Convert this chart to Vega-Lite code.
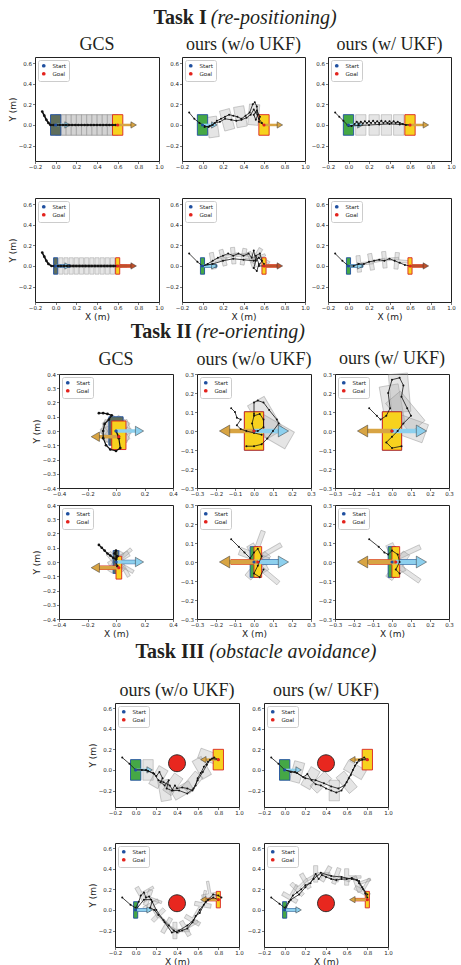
{
"$schema":"https://vega.github.io/schema/vega-lite/v6.json",
"background":"white",
"padding":{"left":7,"top":7,"right":0,"bottom":0},
"config":{
 "view":{"stroke":"#222","strokeWidth":1},
 "axis":{"grid":false,"domain":false,"labelFont":"DejaVu Sans","labelFontSize":5.5,"labelColor":"#222","tickColor":"#222","tickSize":2.5,"tickWidth":0.6,"labelPadding":1,"titleFont":"DejaVu Sans","titleFontSize":9,"titleFontWeight":"normal","titleColor":"#222","titlePadding":1,"format":".1f","labelOverlap":false,"labelFlush":false},
 "legend":{"orient":"top-left","offset":3,"padding":3,"rowPadding":1,"labelFont":"DejaVu Sans","labelFontSize":5.5,"labelColor":"#222","symbolSize":14,"symbolType":"circle","symbolStrokeWidth":0,"fillColor":"white","strokeColor":"#cccccc","cornerRadius":2,"labelOffset":6},
 "title":{"font":"Liberation Serif","fontSize":18,"fontWeight":"normal","color":"#231f20","offset":3}
},
"datasets":{"d":[
{"p":"a1","g":"b","k":"ghost","sh":"R","x":0.05,"y":0,"a":0},{"p":"a1","g":"b","k":"ghost","sh":"R","x":0.1,"y":0,"a":0},{"p":"a1","g":"b","k":"ghost","sh":"R","x":0.15,"y":0,"a":0},{"p":"a1","g":"b","k":"ghost","sh":"R","x":0.2,"y":0,"a":0},{"p":"a1","g":"b","k":"ghost","sh":"R","x":0.25,"y":0,"a":0},{"p":"a1","g":"b","k":"ghost","sh":"R","x":0.3,"y":0,"a":0},{"p":"a1","g":"b","k":"ghost","sh":"R","x":0.35,"y":0,"a":0},{"p":"a1","g":"b","k":"ghost","sh":"R","x":0.4,"y":0,"a":0},{"p":"a1","g":"b","k":"ghost","sh":"R","x":0.45,"y":0,"a":0},{"p":"a1","g":"b","k":"ghost","sh":"R","x":0.5,"y":0,"a":0},{"p":"a1","g":"b","k":"ghost","sh":"R","x":0.55,"y":0,"a":0},
{"p":"a1","g":"b","k":"gcs","sh":"R","x":0,"y":0,"a":0},{"p":"a1","g":"b","k":"goal","sh":"R","x":0.6,"y":0,"a":0},
{"p":"a1","g":"a","k":"sa","x":0,"y":0,"x2":0.1,"y2":0},{"p":"a1","g":"a","k":"ga","x":0.6,"y":0,"x2":0.74,"y2":0},
{"p":"a1","g":"h","k":"sa","x":0.115,"y":0,"a":0},{"p":"a1","g":"h","k":"ga","x":0.755,"y":0,"a":0},
{"p":"a1","g":"t","k":1,"i":0,"x":-0.13,"y":0.13},{"p":"a1","g":"t","k":1,"i":1,"x":-0.11,"y":0.09},{"p":"a1","g":"t","k":1,"i":2,"x":-0.09,"y":0.05},{"p":"a1","g":"t","k":1,"i":3,"x":-0.07,"y":0.02},{"p":"a1","g":"t","k":1,"i":4,"x":-0.05,"y":0},{"p":"a1","g":"t","k":1,"i":5,"x":-0.02,"y":0},{"p":"a1","g":"t","k":1,"i":6,"x":0.01,"y":0},{"p":"a1","g":"t","k":1,"i":7,"x":0.04,"y":0},{"p":"a1","g":"t","k":1,"i":8,"x":0.07,"y":0},{"p":"a1","g":"t","k":1,"i":9,"x":0.1,"y":0},{"p":"a1","g":"t","k":1,"i":10,"x":0.13,"y":0},{"p":"a1","g":"t","k":1,"i":11,"x":0.16,"y":0},{"p":"a1","g":"t","k":1,"i":12,"x":0.19,"y":0},{"p":"a1","g":"t","k":1,"i":13,"x":0.22,"y":0},{"p":"a1","g":"t","k":1,"i":14,"x":0.25,"y":0},{"p":"a1","g":"t","k":1,"i":15,"x":0.28,"y":0},{"p":"a1","g":"t","k":1,"i":16,"x":0.31,"y":0},{"p":"a1","g":"t","k":1,"i":17,"x":0.34,"y":0},{"p":"a1","g":"t","k":1,"i":18,"x":0.37,"y":0},{"p":"a1","g":"t","k":1,"i":19,"x":0.4,"y":0},{"p":"a1","g":"t","k":1,"i":20,"x":0.43,"y":0},{"p":"a1","g":"t","k":1,"i":21,"x":0.46,"y":0},{"p":"a1","g":"t","k":1,"i":22,"x":0.49,"y":0},{"p":"a1","g":"t","k":1,"i":23,"x":0.52,"y":0},{"p":"a1","g":"t","k":1,"i":24,"x":0.55,"y":0},{"p":"a1","g":"t","k":1,"i":25,"x":0.58,"y":0},
{"p":"a1","g":"d","k":"Start","x":0,"y":0},{"p":"a1","g":"d","k":"Goal","x":0.6,"y":0},

{"p":"a2","g":"b","k":"ghost","sh":"R","x":0.1,"y":-0.02,"a":-8},{"p":"a2","g":"b","k":"ghost","sh":"R","x":0.24,"y":0.05,"a":-15},{"p":"a2","g":"b","k":"ghost","sh":"R","x":0.37,"y":0.08,"a":-10},{"p":"a2","g":"b","k":"ghost","sh":"R","x":0.5,"y":0.1,"a":5},
{"p":"a2","g":"b","k":"start","sh":"R","x":0,"y":0,"a":0},{"p":"a2","g":"b","k":"goal","sh":"R","x":0.6,"y":0,"a":0},
{"p":"a2","g":"a","k":"sa","x":0,"y":0,"x2":0.1,"y2":0},{"p":"a2","g":"a","k":"ga","x":0.6,"y":0,"x2":0.74,"y2":0},
{"p":"a2","g":"h","k":"sa","x":0.115,"y":0,"a":0},{"p":"a2","g":"h","k":"ga","x":0.755,"y":0,"a":0},
{"p":"a2","g":"t","k":1,"i":0,"x":-0.13,"y":0.12},{"p":"a2","g":"t","k":1,"i":1,"x":-0.08,"y":0.06},{"p":"a2","g":"t","k":1,"i":2,"x":-0.03,"y":0.02},{"p":"a2","g":"t","k":1,"i":3,"x":0.02,"y":-0.01},{"p":"a2","g":"t","k":1,"i":4,"x":0.06,"y":-0.02},{"p":"a2","g":"t","k":1,"i":5,"x":0.1,"y":0.0},{"p":"a2","g":"t","k":1,"i":6,"x":0.14,"y":0.04},{"p":"a2","g":"t","k":1,"i":7,"x":0.18,"y":0.06},{"p":"a2","g":"t","k":1,"i":8,"x":0.22,"y":0.08},{"p":"a2","g":"t","k":1,"i":9,"x":0.26,"y":0.1},{"p":"a2","g":"t","k":1,"i":10,"x":0.3,"y":0.09},{"p":"a2","g":"t","k":1,"i":11,"x":0.34,"y":0.08},{"p":"a2","g":"t","k":1,"i":12,"x":0.38,"y":0.06},{"p":"a2","g":"t","k":1,"i":13,"x":0.42,"y":0.09},{"p":"a2","g":"t","k":1,"i":14,"x":0.46,"y":0.12},{"p":"a2","g":"t","k":1,"i":15,"x":0.49,"y":0.2},{"p":"a2","g":"t","k":1,"i":16,"x":0.51,"y":0.22},{"p":"a2","g":"t","k":1,"i":17,"x":0.53,"y":0.18},{"p":"a2","g":"t","k":1,"i":18,"x":0.54,"y":0.1},{"p":"a2","g":"t","k":1,"i":19,"x":0.52,"y":0.05},{"p":"a2","g":"t","k":1,"i":20,"x":0.5,"y":0.1},{"p":"a2","g":"t","k":1,"i":21,"x":0.53,"y":0.14},{"p":"a2","g":"t","k":1,"i":22,"x":0.56,"y":0.08},{"p":"a2","g":"t","k":1,"i":23,"x":0.55,"y":0.03},{"p":"a2","g":"t","k":1,"i":24,"x":0.6,"y":0.0},
{"p":"a2","g":"t","k":2,"i":0,"x":0.02,"y":-0.02},{"p":"a2","g":"t","k":2,"i":1,"x":0.07,"y":-0.01},{"p":"a2","g":"t","k":2,"i":2,"x":0.12,"y":0.02},{"p":"a2","g":"t","k":2,"i":3,"x":0.17,"y":0.03},{"p":"a2","g":"t","k":2,"i":4,"x":0.22,"y":0.06},{"p":"a2","g":"t","k":2,"i":5,"x":0.28,"y":0.05},{"p":"a2","g":"t","k":2,"i":6,"x":0.33,"y":0.04},{"p":"a2","g":"t","k":2,"i":7,"x":0.38,"y":0.05},{"p":"a2","g":"t","k":2,"i":8,"x":0.43,"y":0.07},{"p":"a2","g":"t","k":2,"i":9,"x":0.47,"y":0.1},{"p":"a2","g":"t","k":2,"i":10,"x":0.5,"y":0.15},{"p":"a2","g":"t","k":2,"i":11,"x":0.52,"y":0.12},{"p":"a2","g":"t","k":2,"i":12,"x":0.55,"y":0.06},{"p":"a2","g":"t","k":2,"i":13,"x":0.58,"y":0.02},
{"p":"a2","g":"d","k":"Start","x":0,"y":0},{"p":"a2","g":"d","k":"Goal","x":0.6,"y":0},

{"p":"a3","g":"b","k":"ghost","sh":"R","x":0.12,"y":0,"a":0},{"p":"a3","g":"b","k":"ghost","sh":"R","x":0.25,"y":0,"a":0},{"p":"a3","g":"b","k":"ghost","sh":"R","x":0.37,"y":0,"a":0},{"p":"a3","g":"b","k":"ghost","sh":"R","x":0.49,"y":0,"a":0},
{"p":"a3","g":"b","k":"start","sh":"R","x":0,"y":0,"a":0},{"p":"a3","g":"b","k":"goal","sh":"R","x":0.6,"y":0,"a":0},
{"p":"a3","g":"a","k":"sa","x":0,"y":0,"x2":0.1,"y2":0},{"p":"a3","g":"a","k":"ga","x":0.6,"y":0,"x2":0.74,"y2":0},
{"p":"a3","g":"h","k":"sa","x":0.115,"y":0,"a":0},{"p":"a3","g":"h","k":"ga","x":0.755,"y":0,"a":0},
{"p":"a3","g":"t","k":1,"i":0,"x":-0.13,"y":0.12},{"p":"a3","g":"t","k":1,"i":1,"x":-0.09,"y":0.08},{"p":"a3","g":"t","k":1,"i":2,"x":-0.05,"y":0.04},{"p":"a3","g":"t","k":1,"i":3,"x":-0.01,"y":0.0},{"p":"a3","g":"t","k":1,"i":4,"x":0.03,"y":-0.01},{"p":"a3","g":"t","k":1,"i":5,"x":0.06,"y":0.01},{"p":"a3","g":"t","k":1,"i":6,"x":0.08,"y":0.03},{"p":"a3","g":"t","k":1,"i":7,"x":0.1,"y":0.01},{"p":"a3","g":"t","k":1,"i":8,"x":0.12,"y":0.03},{"p":"a3","g":"t","k":1,"i":9,"x":0.14,"y":0.015},{"p":"a3","g":"t","k":1,"i":10,"x":0.16,"y":0.035},{"p":"a3","g":"t","k":1,"i":11,"x":0.18,"y":0.02},{"p":"a3","g":"t","k":1,"i":12,"x":0.2,"y":0.035},{"p":"a3","g":"t","k":1,"i":13,"x":0.22,"y":0.02},{"p":"a3","g":"t","k":1,"i":14,"x":0.24,"y":0.04},{"p":"a3","g":"t","k":1,"i":15,"x":0.26,"y":0.02},{"p":"a3","g":"t","k":1,"i":16,"x":0.28,"y":0.035},{"p":"a3","g":"t","k":1,"i":17,"x":0.3,"y":0.02},{"p":"a3","g":"t","k":1,"i":18,"x":0.32,"y":0.04},{"p":"a3","g":"t","k":1,"i":19,"x":0.34,"y":0.02},{"p":"a3","g":"t","k":1,"i":20,"x":0.36,"y":0.035},{"p":"a3","g":"t","k":1,"i":21,"x":0.38,"y":0.02},{"p":"a3","g":"t","k":1,"i":22,"x":0.4,"y":0.035},{"p":"a3","g":"t","k":1,"i":23,"x":0.42,"y":0.02},{"p":"a3","g":"t","k":1,"i":24,"x":0.44,"y":0.035},{"p":"a3","g":"t","k":1,"i":25,"x":0.46,"y":0.02},{"p":"a3","g":"t","k":1,"i":26,"x":0.48,"y":0.03},{"p":"a3","g":"t","k":1,"i":27,"x":0.5,"y":0.02},{"p":"a3","g":"t","k":1,"i":28,"x":0.53,"y":0.01},{"p":"a3","g":"t","k":1,"i":29,"x":0.56,"y":0.0},{"p":"a3","g":"t","k":1,"i":30,"x":0.6,"y":0.0},
{"p":"a3","g":"t","k":2,"i":0,"x":0.0,"y":-0.01},{"p":"a3","g":"t","k":2,"i":1,"x":0.1,"y":-0.005},{"p":"a3","g":"t","k":2,"i":2,"x":0.2,"y":0.0},{"p":"a3","g":"t","k":2,"i":3,"x":0.3,"y":0.005},{"p":"a3","g":"t","k":2,"i":4,"x":0.4,"y":0.01},{"p":"a3","g":"t","k":2,"i":5,"x":0.5,"y":0.005},{"p":"a3","g":"t","k":2,"i":6,"x":0.6,"y":0.0},
{"p":"a3","g":"d","k":"Start","x":0,"y":0},{"p":"a3","g":"d","k":"Goal","x":0.6,"y":0},

{"p":"a4","g":"b","k":"ghost","sh":"T","x":0.05,"y":0,"a":0},{"p":"a4","g":"b","k":"ghost","sh":"T","x":0.1,"y":0,"a":0},{"p":"a4","g":"b","k":"ghost","sh":"T","x":0.15,"y":0,"a":0},{"p":"a4","g":"b","k":"ghost","sh":"T","x":0.2,"y":0,"a":0},{"p":"a4","g":"b","k":"ghost","sh":"T","x":0.25,"y":0,"a":0},{"p":"a4","g":"b","k":"ghost","sh":"T","x":0.3,"y":0,"a":0},{"p":"a4","g":"b","k":"ghost","sh":"T","x":0.35,"y":0,"a":0},{"p":"a4","g":"b","k":"ghost","sh":"T","x":0.4,"y":0,"a":0},{"p":"a4","g":"b","k":"ghost","sh":"T","x":0.45,"y":0,"a":0},{"p":"a4","g":"b","k":"ghost","sh":"T","x":0.5,"y":0,"a":0},{"p":"a4","g":"b","k":"ghost","sh":"T","x":0.55,"y":0,"a":0},
{"p":"a4","g":"b","k":"gcs","sh":"T","x":0,"y":0,"a":0},{"p":"a4","g":"b","k":"goal","sh":"T","x":0.6,"y":0,"a":0},
{"p":"a4","g":"a","k":"sa","x":0,"y":0,"x2":0.1,"y2":0},{"p":"a4","g":"a","k":"gt","x":0.6,"y":0,"x2":0.74,"y2":0},
{"p":"a4","g":"h","k":"sa","x":0.115,"y":0,"a":0},{"p":"a4","g":"h","k":"gt","x":0.755,"y":0,"a":0},
{"p":"a4","g":"t","k":1,"i":0,"x":-0.13,"y":0.13},{"p":"a4","g":"t","k":1,"i":1,"x":-0.11,"y":0.09},{"p":"a4","g":"t","k":1,"i":2,"x":-0.09,"y":0.05},{"p":"a4","g":"t","k":1,"i":3,"x":-0.07,"y":0.02},{"p":"a4","g":"t","k":1,"i":4,"x":-0.04,"y":0},{"p":"a4","g":"t","k":1,"i":5,"x":-0.01,"y":0},{"p":"a4","g":"t","k":1,"i":6,"x":0.02,"y":0},{"p":"a4","g":"t","k":1,"i":7,"x":0.05,"y":0},{"p":"a4","g":"t","k":1,"i":8,"x":0.08,"y":0},{"p":"a4","g":"t","k":1,"i":9,"x":0.11,"y":0},{"p":"a4","g":"t","k":1,"i":10,"x":0.14,"y":0},{"p":"a4","g":"t","k":1,"i":11,"x":0.17,"y":0},{"p":"a4","g":"t","k":1,"i":12,"x":0.2,"y":0},{"p":"a4","g":"t","k":1,"i":13,"x":0.23,"y":0},{"p":"a4","g":"t","k":1,"i":14,"x":0.26,"y":0},{"p":"a4","g":"t","k":1,"i":15,"x":0.29,"y":0},{"p":"a4","g":"t","k":1,"i":16,"x":0.32,"y":0},{"p":"a4","g":"t","k":1,"i":17,"x":0.35,"y":0},{"p":"a4","g":"t","k":1,"i":18,"x":0.38,"y":0},{"p":"a4","g":"t","k":1,"i":19,"x":0.41,"y":0},{"p":"a4","g":"t","k":1,"i":20,"x":0.44,"y":0},{"p":"a4","g":"t","k":1,"i":21,"x":0.47,"y":0},{"p":"a4","g":"t","k":1,"i":22,"x":0.5,"y":0},{"p":"a4","g":"t","k":1,"i":23,"x":0.53,"y":0},{"p":"a4","g":"t","k":1,"i":24,"x":0.56,"y":0},{"p":"a4","g":"t","k":1,"i":25,"x":0.59,"y":0},
{"p":"a4","g":"d","k":"Start","x":0,"y":0},{"p":"a4","g":"d","k":"Goal","x":0.6,"y":0},

{"p":"a5","g":"b","k":"ghost","sh":"T","x":0.1,"y":0.05,"a":-10},{"p":"a5","g":"b","k":"ghost","sh":"T","x":0.2,"y":0.08,"a":-15},{"p":"a5","g":"b","k":"ghost","sh":"T","x":0.3,"y":0.1,"a":-5},{"p":"a5","g":"b","k":"ghost","sh":"T","x":0.4,"y":0.09,"a":10},{"p":"a5","g":"b","k":"ghost","sh":"T","x":0.48,"y":0.06,"a":-20},{"p":"a5","g":"b","k":"ghost","sh":"T","x":0.53,"y":0.1,"a":30},
{"p":"a5","g":"b","k":"start","sh":"T","x":0,"y":0,"a":0},{"p":"a5","g":"b","k":"goal","sh":"T","x":0.6,"y":0,"a":0},
{"p":"a5","g":"a","k":"sa","x":0,"y":0,"x2":0.1,"y2":0},{"p":"a5","g":"a","k":"gt","x":0.6,"y":0,"x2":0.74,"y2":0},
{"p":"a5","g":"h","k":"sa","x":0.115,"y":0,"a":0},{"p":"a5","g":"h","k":"gt","x":0.755,"y":0,"a":0},
{"p":"a5","g":"t","k":1,"i":0,"x":-0.13,"y":0.12},{"p":"a5","g":"t","k":1,"i":1,"x":-0.05,"y":0.04},{"p":"a5","g":"t","k":1,"i":2,"x":0.0,"y":0.0},{"p":"a5","g":"t","k":1,"i":3,"x":0.05,"y":0.02},{"p":"a5","g":"t","k":1,"i":4,"x":0.1,"y":0.05},{"p":"a5","g":"t","k":1,"i":5,"x":0.15,"y":0.08},{"p":"a5","g":"t","k":1,"i":6,"x":0.2,"y":0.1},{"p":"a5","g":"t","k":1,"i":7,"x":0.25,"y":0.12},{"p":"a5","g":"t","k":1,"i":8,"x":0.3,"y":0.1},{"p":"a5","g":"t","k":1,"i":9,"x":0.35,"y":0.12},{"p":"a5","g":"t","k":1,"i":10,"x":0.4,"y":0.1},{"p":"a5","g":"t","k":1,"i":11,"x":0.45,"y":0.12},{"p":"a5","g":"t","k":1,"i":12,"x":0.48,"y":0.08},{"p":"a5","g":"t","k":1,"i":13,"x":0.5,"y":0.15},{"p":"a5","g":"t","k":1,"i":14,"x":0.52,"y":0.05},{"p":"a5","g":"t","k":1,"i":15,"x":0.5,"y":-0.02},{"p":"a5","g":"t","k":1,"i":16,"x":0.53,"y":-0.05},{"p":"a5","g":"t","k":1,"i":17,"x":0.55,"y":0.02},{"p":"a5","g":"t","k":1,"i":18,"x":0.52,"y":0.1},{"p":"a5","g":"t","k":1,"i":19,"x":0.56,"y":0.12},{"p":"a5","g":"t","k":1,"i":20,"x":0.58,"y":0.05},{"p":"a5","g":"t","k":1,"i":21,"x":0.55,"y":0.0},{"p":"a5","g":"t","k":1,"i":22,"x":0.6,"y":0.0},
{"p":"a5","g":"t","k":2,"i":0,"x":0.0,"y":0.0},{"p":"a5","g":"t","k":2,"i":1,"x":0.1,"y":0.02},{"p":"a5","g":"t","k":2,"i":2,"x":0.2,"y":0.05},{"p":"a5","g":"t","k":2,"i":3,"x":0.3,"y":0.07},{"p":"a5","g":"t","k":2,"i":4,"x":0.4,"y":0.06},{"p":"a5","g":"t","k":2,"i":5,"x":0.5,"y":0.05},{"p":"a5","g":"t","k":2,"i":6,"x":0.55,"y":0.08},{"p":"a5","g":"t","k":2,"i":7,"x":0.6,"y":0.02},
{"p":"a5","g":"d","k":"Start","x":0,"y":0},{"p":"a5","g":"d","k":"Goal","x":0.6,"y":0},

{"p":"a6","g":"b","k":"ghost","sh":"T","x":0.1,"y":0.02,"a":-5},{"p":"a6","g":"b","k":"ghost","sh":"T","x":0.22,"y":0.04,"a":-10},{"p":"a6","g":"b","k":"ghost","sh":"T","x":0.35,"y":0.06,"a":-5},{"p":"a6","g":"b","k":"ghost","sh":"T","x":0.47,"y":0.05,"a":5},
{"p":"a6","g":"b","k":"start","sh":"T","x":0,"y":0,"a":0},{"p":"a6","g":"b","k":"goal","sh":"T","x":0.6,"y":0,"a":0},
{"p":"a6","g":"a","k":"sa","x":0,"y":0,"x2":0.1,"y2":0},{"p":"a6","g":"a","k":"gt","x":0.6,"y":0,"x2":0.74,"y2":0},
{"p":"a6","g":"h","k":"sa","x":0.115,"y":0,"a":0},{"p":"a6","g":"h","k":"gt","x":0.755,"y":0,"a":0},
{"p":"a6","g":"t","k":1,"i":0,"x":-0.13,"y":0.12},{"p":"a6","g":"t","k":1,"i":1,"x":-0.06,"y":0.05},{"p":"a6","g":"t","k":1,"i":2,"x":0.0,"y":0.0},{"p":"a6","g":"t","k":1,"i":3,"x":0.05,"y":0.0},{"p":"a6","g":"t","k":1,"i":4,"x":0.1,"y":0.02},{"p":"a6","g":"t","k":1,"i":5,"x":0.15,"y":0.02},{"p":"a6","g":"t","k":1,"i":6,"x":0.2,"y":0.04},{"p":"a6","g":"t","k":1,"i":7,"x":0.25,"y":0.05},{"p":"a6","g":"t","k":1,"i":8,"x":0.3,"y":0.06},{"p":"a6","g":"t","k":1,"i":9,"x":0.35,"y":0.05},{"p":"a6","g":"t","k":1,"i":10,"x":0.4,"y":0.07},{"p":"a6","g":"t","k":1,"i":11,"x":0.45,"y":0.05},{"p":"a6","g":"t","k":1,"i":12,"x":0.5,"y":0.03},{"p":"a6","g":"t","k":1,"i":13,"x":0.55,"y":0.01},{"p":"a6","g":"t","k":1,"i":14,"x":0.6,"y":0.0},
{"p":"a6","g":"d","k":"Start","x":0,"y":0},{"p":"a6","g":"d","k":"Goal","x":0.6,"y":0},

{"p":"b1","g":"b","k":"ghost","sh":"R","x":0,"y":0,"a":35},{"p":"b1","g":"b","k":"ghost","sh":"R","x":0,"y":0,"a":70},{"p":"b1","g":"b","k":"ghost","sh":"R","x":0,"y":0,"a":110},{"p":"b1","g":"b","k":"ghost","sh":"R","x":0,"y":0,"a":145},
{"p":"b1","g":"b","k":"gcs","sh":"R","x":0,"y":0,"a":0},{"p":"b1","g":"b","k":"goal","sh":"R","x":0.02,"y":-0.03,"a":0},
{"p":"b1","g":"a","k":"sa","x":0,"y":0,"x2":0.15,"y2":0},{"p":"b1","g":"a","k":"ga","x":0.02,"y":-0.04,"x2":-0.13,"y2":-0.04},
{"p":"b1","g":"h","k":"sa","x":0.165,"y":0,"a":0},{"p":"b1","g":"h","k":"ga","x":-0.145,"y":-0.04,"a":180},
{"p":"b1","g":"t","k":1,"i":0,"x":-0.12,"y":0.125},{"p":"b1","g":"t","k":1,"i":1,"x":-0.09,"y":0.125},{"p":"b1","g":"t","k":1,"i":2,"x":-0.06,"y":0.12},{"p":"b1","g":"t","k":1,"i":3,"x":-0.03,"y":0.11},{"p":"b1","g":"t","k":1,"i":4,"x":-0.05,"y":0.08},{"p":"b1","g":"t","k":1,"i":5,"x":-0.08,"y":0.05},{"p":"b1","g":"t","k":1,"i":6,"x":-0.09,"y":0.0},{"p":"b1","g":"t","k":1,"i":7,"x":-0.09,"y":-0.05},{"p":"b1","g":"t","k":1,"i":8,"x":-0.07,"y":-0.1},{"p":"b1","g":"t","k":1,"i":9,"x":-0.04,"y":-0.13},{"p":"b1","g":"t","k":1,"i":10,"x":0.0,"y":-0.14},{"p":"b1","g":"t","k":1,"i":11,"x":0.03,"y":-0.12},{"p":"b1","g":"t","k":1,"i":12,"x":0.02,"y":-0.05},{"p":"b1","g":"t","k":1,"i":13,"x":0.0,"y":0.0},{"p":"b1","g":"t","k":1,"i":14,"x":0.02,"y":-0.04},
{"p":"b1","g":"d","k":"Start","x":0,"y":0},{"p":"b1","g":"d","k":"Goal","x":0.02,"y":-0.04},

{"p":"b2","g":"b","k":"ghost","sh":"R","x":0.06,"y":0.07,"a":-30},{"p":"b2","g":"b","k":"ghost","sh":"R","x":0.1,"y":0.0,"a":-60},
{"p":"b2","g":"b","k":"start","sh":"R","x":0,"y":0,"a":0},{"p":"b2","g":"b","k":"goal","sh":"R","x":0,"y":0,"a":0},
{"p":"b2","g":"a","k":"sa","x":0,"y":0,"x2":0.14,"y2":0},{"p":"b2","g":"a","k":"ga","x":0,"y":0,"x2":-0.14,"y2":0},
{"p":"b2","g":"h","k":"sa","x":0.155,"y":0,"a":0},{"p":"b2","g":"h","k":"ga","x":-0.155,"y":0,"a":180},
{"p":"b2","g":"t","k":1,"i":0,"x":-0.12,"y":0.12},{"p":"b2","g":"t","k":1,"i":1,"x":-0.1,"y":0.1},{"p":"b2","g":"t","k":1,"i":2,"x":-0.09,"y":0.07},{"p":"b2","g":"t","k":1,"i":3,"x":-0.07,"y":0.06},{"p":"b2","g":"t","k":1,"i":4,"x":-0.09,"y":0.03},{"p":"b2","g":"t","k":1,"i":5,"x":-0.07,"y":0.01},{"p":"b2","g":"t","k":1,"i":6,"x":-0.04,"y":0.0},{"p":"b2","g":"t","k":1,"i":7,"x":0.0,"y":-0.01},{"p":"b2","g":"t","k":1,"i":8,"x":0.04,"y":-0.02},
{"p":"b2","g":"t","k":2,"i":0,"x":0.0,"y":0.0},{"p":"b2","g":"t","k":2,"i":1,"x":-0.01,"y":0.04},{"p":"b2","g":"t","k":2,"i":2,"x":0.0,"y":0.08},{"p":"b2","g":"t","k":2,"i":3,"x":0.03,"y":0.09},{"p":"b2","g":"t","k":2,"i":4,"x":0.05,"y":0.06},{"p":"b2","g":"t","k":2,"i":5,"x":0.05,"y":0.02},{"p":"b2","g":"t","k":2,"i":6,"x":0.02,"y":0.0},{"p":"b2","g":"t","k":2,"i":7,"x":0.0,"y":0.0},
{"p":"b2","g":"t","k":3,"i":0,"x":0.0,"y":0.09},{"p":"b2","g":"t","k":3,"i":1,"x":0.0,"y":0.15},{"p":"b2","g":"t","k":3,"i":2,"x":0.02,"y":0.16},{"p":"b2","g":"t","k":3,"i":3,"x":0.05,"y":0.15},{"p":"b2","g":"t","k":3,"i":4,"x":0.08,"y":0.11},{"p":"b2","g":"t","k":3,"i":5,"x":0.12,"y":0.06},{"p":"b2","g":"t","k":3,"i":6,"x":0.13,"y":0.04},{"p":"b2","g":"t","k":3,"i":7,"x":0.1,"y":0.0},{"p":"b2","g":"t","k":3,"i":8,"x":0.07,"y":-0.04},{"p":"b2","g":"t","k":3,"i":9,"x":0.04,"y":-0.07},{"p":"b2","g":"t","k":3,"i":10,"x":0.0,"y":-0.08},{"p":"b2","g":"t","k":3,"i":11,"x":-0.04,"y":-0.08},
{"p":"b2","g":"d","k":"Start","x":0,"y":0},{"p":"b2","g":"d","k":"Goal","x":0,"y":0},

{"p":"b3","g":"b","k":"ghost","sh":"R","x":0.0,"y":0.14,"a":-10},{"p":"b3","g":"b","k":"ghost","sh":"R","x":0.04,"y":0.2,"a":-5},{"p":"b3","g":"b","k":"ghost","sh":"R","x":0.07,"y":0.1,"a":-40},{"p":"b3","g":"b","k":"ghost","sh":"R","x":0.08,"y":0.02,"a":-70},
{"p":"b3","g":"b","k":"start","sh":"R","x":0,"y":0,"a":0},{"p":"b3","g":"b","k":"goal","sh":"R","x":0,"y":0,"a":0},
{"p":"b3","g":"a","k":"sa","x":0,"y":0,"x2":0.14,"y2":0},{"p":"b3","g":"a","k":"ga","x":0,"y":0,"x2":-0.14,"y2":0},
{"p":"b3","g":"h","k":"sa","x":0.155,"y":0,"a":0},{"p":"b3","g":"h","k":"ga","x":-0.155,"y":0,"a":180},
{"p":"b3","g":"t","k":1,"i":0,"x":-0.12,"y":0.12},{"p":"b3","g":"t","k":1,"i":1,"x":-0.08,"y":0.08},{"p":"b3","g":"t","k":1,"i":2,"x":-0.06,"y":0.06},{"p":"b3","g":"t","k":1,"i":3,"x":-0.03,"y":0.08},{"p":"b3","g":"t","k":1,"i":4,"x":-0.01,"y":0.12},{"p":"b3","g":"t","k":1,"i":5,"x":-0.02,"y":0.2},{"p":"b3","g":"t","k":1,"i":6,"x":0.0,"y":0.27},{"p":"b3","g":"t","k":1,"i":7,"x":0.04,"y":0.28},{"p":"b3","g":"t","k":1,"i":8,"x":0.06,"y":0.24},{"p":"b3","g":"t","k":1,"i":9,"x":0.05,"y":0.18},{"p":"b3","g":"t","k":1,"i":10,"x":0.08,"y":0.12},{"p":"b3","g":"t","k":1,"i":11,"x":0.1,"y":0.08},{"p":"b3","g":"t","k":1,"i":12,"x":0.06,"y":0.04},{"p":"b3","g":"t","k":1,"i":13,"x":0.03,"y":0.0},{"p":"b3","g":"t","k":1,"i":14,"x":0.0,"y":-0.03},{"p":"b3","g":"t","k":1,"i":15,"x":-0.03,"y":-0.06},{"p":"b3","g":"t","k":1,"i":16,"x":0.0,"y":-0.09},{"p":"b3","g":"t","k":1,"i":17,"x":0.05,"y":-0.08},
{"p":"b3","g":"d","k":"Start","x":0,"y":0},{"p":"b3","g":"d","k":"Goal","x":0,"y":0},

{"p":"b4","g":"b","k":"ghost","sh":"T","x":0,"y":0,"a":30},{"p":"b4","g":"b","k":"ghost","sh":"T","x":0,"y":0,"a":-40},{"p":"b4","g":"b","k":"ghost","sh":"T","x":0.02,"y":0.02,"a":60},
{"p":"b4","g":"b","k":"gcs","sh":"T","x":0,"y":0,"a":0},{"p":"b4","g":"b","k":"goal","sh":"T","x":0.02,"y":-0.04,"a":180},
{"p":"b4","g":"a","k":"sa","x":0,"y":0,"x2":0.15,"y2":0},{"p":"b4","g":"a","k":"ga","x":0.02,"y":-0.04,"x2":-0.13,"y2":-0.04},
{"p":"b4","g":"h","k":"sa","x":0.165,"y":0,"a":0},{"p":"b4","g":"h","k":"ga","x":-0.145,"y":-0.04,"a":180},
{"p":"b4","g":"t","k":1,"i":0,"x":-0.12,"y":0.12},{"p":"b4","g":"t","k":1,"i":1,"x":-0.1,"y":0.1},{"p":"b4","g":"t","k":1,"i":2,"x":-0.08,"y":0.08},{"p":"b4","g":"t","k":1,"i":3,"x":-0.06,"y":0.06},{"p":"b4","g":"t","k":1,"i":4,"x":-0.04,"y":0.045},{"p":"b4","g":"t","k":1,"i":5,"x":-0.02,"y":0.03},{"p":"b4","g":"t","k":1,"i":6,"x":0.0,"y":0.02},{"p":"b4","g":"t","k":1,"i":7,"x":0.0,"y":0.08},{"p":"b4","g":"t","k":1,"i":8,"x":-0.01,"y":0.06},{"p":"b4","g":"t","k":1,"i":9,"x":0.01,"y":0.04},{"p":"b4","g":"t","k":1,"i":10,"x":0.0,"y":0.0},{"p":"b4","g":"t","k":1,"i":11,"x":0.01,"y":-0.03},
{"p":"b4","g":"d","k":"Start","x":0,"y":0},{"p":"b4","g":"d","k":"Goal","x":0.02,"y":-0.04},

{"p":"b5","g":"b","k":"ghost","sh":"T","x":0.02,"y":0.02,"a":-30},{"p":"b5","g":"b","k":"ghost","sh":"T","x":0.02,"y":-0.02,"a":40},{"p":"b5","g":"b","k":"ghost","sh":"T","x":0.0,"y":0.03,"a":-70},
{"p":"b5","g":"b","k":"start","sh":"T","x":0,"y":0,"a":0},{"p":"b5","g":"b","k":"goal","sh":"T","x":0.02,"y":0,"a":180},
{"p":"b5","g":"a","k":"sa","x":0,"y":0,"x2":0.14,"y2":0},{"p":"b5","g":"a","k":"ga","x":0.02,"y":0,"x2":-0.14,"y2":0},
{"p":"b5","g":"h","k":"sa","x":0.155,"y":0,"a":0},{"p":"b5","g":"h","k":"ga","x":-0.155,"y":0,"a":180},
{"p":"b5","g":"t","k":1,"i":0,"x":-0.12,"y":0.12},{"p":"b5","g":"t","k":1,"i":1,"x":-0.08,"y":0.08},{"p":"b5","g":"t","k":1,"i":2,"x":-0.05,"y":0.05},{"p":"b5","g":"t","k":1,"i":3,"x":-0.02,"y":0.02},{"p":"b5","g":"t","k":1,"i":4,"x":0.0,"y":0.05},{"p":"b5","g":"t","k":1,"i":5,"x":0.02,"y":0.07},{"p":"b5","g":"t","k":1,"i":6,"x":0.04,"y":0.03},{"p":"b5","g":"t","k":1,"i":7,"x":0.02,"y":-0.02},{"p":"b5","g":"t","k":1,"i":8,"x":0.0,"y":-0.06},{"p":"b5","g":"t","k":1,"i":9,"x":0.03,"y":-0.08},{"p":"b5","g":"t","k":1,"i":10,"x":0.05,"y":-0.04},
{"p":"b5","g":"d","k":"Start","x":0,"y":0},{"p":"b5","g":"d","k":"Goal","x":0.02,"y":0},

{"p":"b6","g":"b","k":"ghost","sh":"T","x":0.02,"y":0.02,"a":-25},{"p":"b6","g":"b","k":"ghost","sh":"T","x":0.03,"y":-0.02,"a":35},
{"p":"b6","g":"b","k":"start","sh":"T","x":0,"y":0,"a":0},{"p":"b6","g":"b","k":"goal","sh":"T","x":0.02,"y":0,"a":180},
{"p":"b6","g":"a","k":"sa","x":0,"y":0,"x2":0.14,"y2":0},{"p":"b6","g":"a","k":"ga","x":0.02,"y":0,"x2":-0.14,"y2":0},
{"p":"b6","g":"h","k":"sa","x":0.155,"y":0,"a":0},{"p":"b6","g":"h","k":"ga","x":-0.155,"y":0,"a":180},
{"p":"b6","g":"t","k":1,"i":0,"x":-0.12,"y":0.12},{"p":"b6","g":"t","k":1,"i":1,"x":-0.07,"y":0.08},{"p":"b6","g":"t","k":1,"i":2,"x":-0.04,"y":0.05},{"p":"b6","g":"t","k":1,"i":3,"x":-0.02,"y":0.04},{"p":"b6","g":"t","k":1,"i":4,"x":0.0,"y":0.06},{"p":"b6","g":"t","k":1,"i":5,"x":0.03,"y":0.04},{"p":"b6","g":"t","k":1,"i":6,"x":0.04,"y":0.0},{"p":"b6","g":"t","k":1,"i":7,"x":0.02,"y":-0.04},{"p":"b6","g":"t","k":1,"i":8,"x":0.04,"y":-0.06},
{"p":"b6","g":"d","k":"Start","x":0,"y":0},{"p":"b6","g":"d","k":"Goal","x":0.02,"y":0},

{"p":"c1","g":"b","k":"ghost","sh":"R","x":0.12,"y":0.0,"a":0},{"p":"c1","g":"b","k":"ghost","sh":"R","x":0.22,"y":-0.07,"a":30},{"p":"c1","g":"b","k":"ghost","sh":"R","x":0.28,"y":-0.2,"a":-10},{"p":"c1","g":"b","k":"ghost","sh":"R","x":0.36,"y":-0.14,"a":35},{"p":"c1","g":"b","k":"ghost","sh":"R","x":0.45,"y":-0.2,"a":60},{"p":"c1","g":"b","k":"ghost","sh":"R","x":0.55,"y":-0.12,"a":40},{"p":"c1","g":"b","k":"ghost","sh":"R","x":0.64,"y":0.02,"a":-30},{"p":"c1","g":"b","k":"ghost","sh":"R","x":0.71,"y":0.13,"a":-70},
{"p":"c1","g":"b","k":"obs","sh":"C","x":0.4,"y":0.065,"a":0},
{"p":"c1","g":"b","k":"start","sh":"R","x":0,"y":0,"a":0},{"p":"c1","g":"b","k":"goal","sh":"R","x":0.8,"y":0.1,"a":0},
{"p":"c1","g":"a","k":"sa","x":0,"y":0,"x2":0.12,"y2":0},{"p":"c1","g":"a","k":"ga","x":0.8,"y":0.1,"x2":0.67,"y2":0.1},
{"p":"c1","g":"h","k":"sa","x":0.135,"y":0,"a":0},{"p":"c1","g":"h","k":"ga","x":0.655,"y":0.1,"a":180},
{"p":"c1","g":"t","k":1,"i":0,"x":-0.13,"y":0.12},{"p":"c1","g":"t","k":1,"i":1,"x":-0.06,"y":0.06},{"p":"c1","g":"t","k":1,"i":2,"x":0.0,"y":0.0},{"p":"c1","g":"t","k":1,"i":3,"x":0.06,"y":0.0},{"p":"c1","g":"t","k":1,"i":4,"x":0.12,"y":-0.01},{"p":"c1","g":"t","k":1,"i":5,"x":0.17,"y":-0.03},{"p":"c1","g":"t","k":1,"i":6,"x":0.2,"y":-0.06},{"p":"c1","g":"t","k":1,"i":7,"x":0.23,"y":-0.02},{"p":"c1","g":"t","k":1,"i":8,"x":0.26,"y":-0.08},{"p":"c1","g":"t","k":1,"i":9,"x":0.24,"y":-0.12},{"p":"c1","g":"t","k":1,"i":10,"x":0.28,"y":-0.15},{"p":"c1","g":"t","k":1,"i":11,"x":0.32,"y":-0.1},{"p":"c1","g":"t","k":1,"i":12,"x":0.3,"y":-0.18},{"p":"c1","g":"t","k":1,"i":13,"x":0.35,"y":-0.2},{"p":"c1","g":"t","k":1,"i":14,"x":0.38,"y":-0.15},{"p":"c1","g":"t","k":1,"i":15,"x":0.4,"y":-0.18},{"p":"c1","g":"t","k":1,"i":16,"x":0.45,"y":-0.17},{"p":"c1","g":"t","k":1,"i":17,"x":0.5,"y":-0.18},{"p":"c1","g":"t","k":1,"i":18,"x":0.55,"y":-0.2},{"p":"c1","g":"t","k":1,"i":19,"x":0.58,"y":-0.15},{"p":"c1","g":"t","k":1,"i":20,"x":0.6,"y":-0.08},{"p":"c1","g":"t","k":1,"i":21,"x":0.63,"y":-0.03},{"p":"c1","g":"t","k":1,"i":22,"x":0.66,"y":0.03},{"p":"c1","g":"t","k":1,"i":23,"x":0.7,"y":0.08},{"p":"c1","g":"t","k":1,"i":24,"x":0.74,"y":0.11},{"p":"c1","g":"t","k":1,"i":25,"x":0.8,"y":0.1},
{"p":"c1","g":"t","k":2,"i":0,"x":0.0,"y":0.0},{"p":"c1","g":"t","k":2,"i":1,"x":0.1,"y":0.0},{"p":"c1","g":"t","k":2,"i":2,"x":0.18,"y":-0.04},{"p":"c1","g":"t","k":2,"i":3,"x":0.22,"y":-0.1},{"p":"c1","g":"t","k":2,"i":4,"x":0.27,"y":-0.12},{"p":"c1","g":"t","k":2,"i":5,"x":0.33,"y":-0.15},{"p":"c1","g":"t","k":2,"i":6,"x":0.36,"y":-0.2},{"p":"c1","g":"t","k":2,"i":7,"x":0.42,"y":-0.2},{"p":"c1","g":"t","k":2,"i":8,"x":0.5,"y":-0.23},{"p":"c1","g":"t","k":2,"i":9,"x":0.56,"y":-0.18},{"p":"c1","g":"t","k":2,"i":10,"x":0.6,"y":-0.1},{"p":"c1","g":"t","k":2,"i":11,"x":0.65,"y":-0.02},{"p":"c1","g":"t","k":2,"i":12,"x":0.69,"y":0.05},{"p":"c1","g":"t","k":2,"i":13,"x":0.72,"y":0.1},{"p":"c1","g":"t","k":2,"i":14,"x":0.76,"y":0.12},{"p":"c1","g":"t","k":2,"i":15,"x":0.8,"y":0.1},
{"p":"c1","g":"d","k":"Start","x":0,"y":0},{"p":"c1","g":"d","k":"Goal","x":0.8,"y":0.1},

{"p":"c2","g":"b","k":"ghost","sh":"R","x":0.12,"y":-0.02,"a":15},{"p":"c2","g":"b","k":"ghost","sh":"R","x":0.25,"y":-0.08,"a":30},{"p":"c2","g":"b","k":"ghost","sh":"R","x":0.35,"y":-0.12,"a":45},{"p":"c2","g":"b","k":"ghost","sh":"R","x":0.48,"y":-0.2,"a":0},{"p":"c2","g":"b","k":"ghost","sh":"R","x":0.6,"y":-0.12,"a":-40},{"p":"c2","g":"b","k":"ghost","sh":"R","x":0.68,"y":0.0,"a":-60},
{"p":"c2","g":"b","k":"obs","sh":"C","x":0.4,"y":0.065,"a":0},
{"p":"c2","g":"b","k":"start","sh":"R","x":0,"y":0,"a":0},{"p":"c2","g":"b","k":"goal","sh":"R","x":0.8,"y":0.1,"a":0},
{"p":"c2","g":"a","k":"sa","x":0,"y":0,"x2":0.12,"y2":0},{"p":"c2","g":"a","k":"ga","x":0.8,"y":0.1,"x2":0.67,"y2":0.1},
{"p":"c2","g":"h","k":"sa","x":0.135,"y":0,"a":0},{"p":"c2","g":"h","k":"ga","x":0.655,"y":0.1,"a":180},
{"p":"c2","g":"t","k":1,"i":0,"x":-0.13,"y":0.12},{"p":"c2","g":"t","k":1,"i":1,"x":-0.06,"y":0.06},{"p":"c2","g":"t","k":1,"i":2,"x":0.0,"y":0.0},{"p":"c2","g":"t","k":1,"i":3,"x":0.06,"y":-0.02},{"p":"c2","g":"t","k":1,"i":4,"x":0.12,"y":-0.03},{"p":"c2","g":"t","k":1,"i":5,"x":0.18,"y":-0.07},{"p":"c2","g":"t","k":1,"i":6,"x":0.22,"y":-0.04},{"p":"c2","g":"t","k":1,"i":7,"x":0.26,"y":-0.1},{"p":"c2","g":"t","k":1,"i":8,"x":0.3,"y":-0.14},{"p":"c2","g":"t","k":1,"i":9,"x":0.35,"y":-0.15},{"p":"c2","g":"t","k":1,"i":10,"x":0.4,"y":-0.18},{"p":"c2","g":"t","k":1,"i":11,"x":0.45,"y":-0.2},{"p":"c2","g":"t","k":1,"i":12,"x":0.5,"y":-0.22},{"p":"c2","g":"t","k":1,"i":13,"x":0.55,"y":-0.2},{"p":"c2","g":"t","k":1,"i":14,"x":0.6,"y":-0.12},{"p":"c2","g":"t","k":1,"i":15,"x":0.64,"y":-0.05},{"p":"c2","g":"t","k":1,"i":16,"x":0.68,"y":0.04},{"p":"c2","g":"t","k":1,"i":17,"x":0.72,"y":0.1},{"p":"c2","g":"t","k":1,"i":18,"x":0.77,"y":0.12},{"p":"c2","g":"t","k":1,"i":19,"x":0.8,"y":0.1},
{"p":"c2","g":"t","k":2,"i":0,"x":0.0,"y":0.0},{"p":"c2","g":"t","k":2,"i":1,"x":0.1,"y":-0.02},{"p":"c2","g":"t","k":2,"i":2,"x":0.2,"y":-0.08},{"p":"c2","g":"t","k":2,"i":3,"x":0.3,"y":-0.1},{"p":"c2","g":"t","k":2,"i":4,"x":0.38,"y":-0.13},{"p":"c2","g":"t","k":2,"i":5,"x":0.45,"y":-0.16},{"p":"c2","g":"t","k":2,"i":6,"x":0.52,"y":-0.18},{"p":"c2","g":"t","k":2,"i":7,"x":0.58,"y":-0.15},{"p":"c2","g":"t","k":2,"i":8,"x":0.62,"y":-0.08},{"p":"c2","g":"t","k":2,"i":9,"x":0.66,"y":0.0},{"p":"c2","g":"t","k":2,"i":10,"x":0.7,"y":0.07},{"p":"c2","g":"t","k":2,"i":11,"x":0.75,"y":0.1},{"p":"c2","g":"t","k":2,"i":12,"x":0.8,"y":0.1},
{"p":"c2","g":"d","k":"Start","x":0,"y":0},{"p":"c2","g":"d","k":"Goal","x":0.8,"y":0.1},

{"p":"c3","g":"b","k":"ghost","sh":"T","x":0.05,"y":0.15,"a":-30},{"p":"c3","g":"b","k":"ghost","sh":"T","x":0.12,"y":0.12,"a":20},{"p":"c3","g":"b","k":"ghost","sh":"T","x":0.15,"y":0.05,"a":60},{"p":"c3","g":"b","k":"ghost","sh":"T","x":0.22,"y":-0.05,"a":45},{"p":"c3","g":"b","k":"ghost","sh":"T","x":0.3,"y":-0.15,"a":30},{"p":"c3","g":"b","k":"ghost","sh":"T","x":0.38,"y":-0.2,"a":0},{"p":"c3","g":"b","k":"ghost","sh":"T","x":0.48,"y":-0.18,"a":-30},{"p":"c3","g":"b","k":"ghost","sh":"T","x":0.55,"y":-0.1,"a":-60},{"p":"c3","g":"b","k":"ghost","sh":"T","x":0.65,"y":0.05,"a":-80},{"p":"c3","g":"b","k":"ghost","sh":"T","x":0.72,"y":0.14,"a":-100},
{"p":"c3","g":"b","k":"obs","sh":"C","x":0.4,"y":0.065,"a":0},
{"p":"c3","g":"b","k":"start","sh":"T","x":0,"y":0,"a":0},{"p":"c3","g":"b","k":"goal","sh":"T","x":0.8,"y":0.1,"a":180},
{"p":"c3","g":"a","k":"sa","x":0,"y":0,"x2":0.12,"y2":0},{"p":"c3","g":"a","k":"ga","x":0.8,"y":0.1,"x2":0.67,"y2":0.1},
{"p":"c3","g":"h","k":"sa","x":0.135,"y":0,"a":0},{"p":"c3","g":"h","k":"ga","x":0.655,"y":0.1,"a":180},
{"p":"c3","g":"t","k":1,"i":0,"x":-0.13,"y":0.12},{"p":"c3","g":"t","k":1,"i":1,"x":-0.05,"y":0.05},{"p":"c3","g":"t","k":1,"i":2,"x":0.0,"y":0.02},{"p":"c3","g":"t","k":1,"i":3,"x":0.03,"y":0.08},{"p":"c3","g":"t","k":1,"i":4,"x":0.05,"y":0.14},{"p":"c3","g":"t","k":1,"i":5,"x":0.08,"y":0.17},{"p":"c3","g":"t","k":1,"i":6,"x":0.1,"y":0.12},{"p":"c3","g":"t","k":1,"i":7,"x":0.13,"y":0.13},{"p":"c3","g":"t","k":1,"i":8,"x":0.16,"y":0.08},{"p":"c3","g":"t","k":1,"i":9,"x":0.14,"y":0.02},{"p":"c3","g":"t","k":1,"i":10,"x":0.18,"y":0.0},{"p":"c3","g":"t","k":1,"i":11,"x":0.22,"y":-0.05},{"p":"c3","g":"t","k":1,"i":12,"x":0.27,"y":-0.1},{"p":"c3","g":"t","k":1,"i":13,"x":0.32,"y":-0.15},{"p":"c3","g":"t","k":1,"i":14,"x":0.37,"y":-0.2},{"p":"c3","g":"t","k":1,"i":15,"x":0.4,"y":-0.22},{"p":"c3","g":"t","k":1,"i":16,"x":0.45,"y":-0.2},{"p":"c3","g":"t","k":1,"i":17,"x":0.5,"y":-0.18},{"p":"c3","g":"t","k":1,"i":18,"x":0.55,"y":-0.12},{"p":"c3","g":"t","k":1,"i":19,"x":0.58,"y":-0.06},{"p":"c3","g":"t","k":1,"i":20,"x":0.62,"y":-0.03},{"p":"c3","g":"t","k":1,"i":21,"x":0.66,"y":0.05},{"p":"c3","g":"t","k":1,"i":22,"x":0.7,"y":0.1},{"p":"c3","g":"t","k":1,"i":23,"x":0.75,"y":0.15},{"p":"c3","g":"t","k":1,"i":24,"x":0.8,"y":0.14},{"p":"c3","g":"t","k":1,"i":25,"x":0.83,"y":0.12},
{"p":"c3","g":"t","k":2,"i":0,"x":0.0,"y":0.0},{"p":"c3","g":"t","k":2,"i":1,"x":0.08,"y":0.1},{"p":"c3","g":"t","k":2,"i":2,"x":0.15,"y":0.1},{"p":"c3","g":"t","k":2,"i":3,"x":0.2,"y":0.0},{"p":"c3","g":"t","k":2,"i":4,"x":0.28,"y":-0.12},{"p":"c3","g":"t","k":2,"i":5,"x":0.35,"y":-0.22},{"p":"c3","g":"t","k":2,"i":6,"x":0.42,"y":-0.2},{"p":"c3","g":"t","k":2,"i":7,"x":0.5,"y":-0.15},{"p":"c3","g":"t","k":2,"i":8,"x":0.56,"y":-0.1},{"p":"c3","g":"t","k":2,"i":9,"x":0.62,"y":0.0},{"p":"c3","g":"t","k":2,"i":10,"x":0.68,"y":0.08},{"p":"c3","g":"t","k":2,"i":11,"x":0.75,"y":0.12},{"p":"c3","g":"t","k":2,"i":12,"x":0.8,"y":0.1},
{"p":"c3","g":"d","k":"Start","x":0,"y":0},{"p":"c3","g":"d","k":"Goal","x":0.8,"y":0.1},

{"p":"c4","g":"b","k":"ghost","sh":"T","x":0.05,"y":0.12,"a":-60},{"p":"c4","g":"b","k":"ghost","sh":"T","x":0.12,"y":0.2,"a":-45},{"p":"c4","g":"b","k":"ghost","sh":"T","x":0.2,"y":0.28,"a":-30},{"p":"c4","g":"b","k":"ghost","sh":"T","x":0.3,"y":0.35,"a":0},{"p":"c4","g":"b","k":"ghost","sh":"T","x":0.4,"y":0.35,"a":30},{"p":"c4","g":"b","k":"ghost","sh":"T","x":0.5,"y":0.33,"a":20},{"p":"c4","g":"b","k":"ghost","sh":"T","x":0.6,"y":0.32,"a":0},{"p":"c4","g":"b","k":"ghost","sh":"T","x":0.7,"y":0.25,"a":-20},{"p":"c4","g":"b","k":"ghost","sh":"T","x":0.75,"y":0.18,"a":-60},
{"p":"c4","g":"b","k":"obs","sh":"C","x":0.4,"y":0.065,"a":0},
{"p":"c4","g":"b","k":"start","sh":"T","x":0,"y":0,"a":0},{"p":"c4","g":"b","k":"goal","sh":"T","x":0.8,"y":0.1,"a":180},
{"p":"c4","g":"a","k":"sa","x":0,"y":0,"x2":0.12,"y2":0},{"p":"c4","g":"a","k":"ga","x":0.8,"y":0.1,"x2":0.67,"y2":0.1},
{"p":"c4","g":"h","k":"sa","x":0.135,"y":0,"a":0},{"p":"c4","g":"h","k":"ga","x":0.655,"y":0.1,"a":180},
{"p":"c4","g":"t","k":1,"i":0,"x":-0.13,"y":0.12},{"p":"c4","g":"t","k":1,"i":1,"x":-0.05,"y":0.06},{"p":"c4","g":"t","k":1,"i":2,"x":0.0,"y":0.02},{"p":"c4","g":"t","k":1,"i":3,"x":0.04,"y":0.08},{"p":"c4","g":"t","k":1,"i":4,"x":0.08,"y":0.14},{"p":"c4","g":"t","k":1,"i":5,"x":0.12,"y":0.17},{"p":"c4","g":"t","k":1,"i":6,"x":0.16,"y":0.2},{"p":"c4","g":"t","k":1,"i":7,"x":0.2,"y":0.24},{"p":"c4","g":"t","k":1,"i":8,"x":0.25,"y":0.26},{"p":"c4","g":"t","k":1,"i":9,"x":0.3,"y":0.35},{"p":"c4","g":"t","k":1,"i":10,"x":0.33,"y":0.3},{"p":"c4","g":"t","k":1,"i":11,"x":0.36,"y":0.34},{"p":"c4","g":"t","k":1,"i":12,"x":0.4,"y":0.32},{"p":"c4","g":"t","k":1,"i":13,"x":0.45,"y":0.3},{"p":"c4","g":"t","k":1,"i":14,"x":0.5,"y":0.29},{"p":"c4","g":"t","k":1,"i":15,"x":0.55,"y":0.3},{"p":"c4","g":"t","k":1,"i":16,"x":0.6,"y":0.3},{"p":"c4","g":"t","k":1,"i":17,"x":0.65,"y":0.31},{"p":"c4","g":"t","k":1,"i":18,"x":0.7,"y":0.29},{"p":"c4","g":"t","k":1,"i":19,"x":0.72,"y":0.26},{"p":"c4","g":"t","k":1,"i":20,"x":0.76,"y":0.2},{"p":"c4","g":"t","k":1,"i":21,"x":0.78,"y":0.16},{"p":"c4","g":"t","k":1,"i":22,"x":0.8,"y":0.12},
{"p":"c4","g":"t","k":2,"i":0,"x":0.0,"y":0.0},{"p":"c4","g":"t","k":2,"i":1,"x":0.06,"y":0.1},{"p":"c4","g":"t","k":2,"i":2,"x":0.14,"y":0.15},{"p":"c4","g":"t","k":2,"i":3,"x":0.2,"y":0.22},{"p":"c4","g":"t","k":2,"i":4,"x":0.28,"y":0.3},{"p":"c4","g":"t","k":2,"i":5,"x":0.35,"y":0.36},{"p":"c4","g":"t","k":2,"i":6,"x":0.45,"y":0.33},{"p":"c4","g":"t","k":2,"i":7,"x":0.55,"y":0.32},{"p":"c4","g":"t","k":2,"i":8,"x":0.65,"y":0.3},{"p":"c4","g":"t","k":2,"i":9,"x":0.72,"y":0.28},{"p":"c4","g":"t","k":2,"i":10,"x":0.75,"y":0.22},{"p":"c4","g":"t","k":2,"i":11,"x":0.8,"y":0.15},
{"p":"c4","g":"d","k":"Start","x":0,"y":0},{"p":"c4","g":"d","k":"Goal","x":0.8,"y":0.1}
]},
"vconcat":[
{"vconcat":[
 {"hconcat":[
  {"width":124,"height":104,"title":"GCS","data":{"name":"d"},"transform":[{"filter":"datum.p=='a1'"}],
   "encoding":{"x":{"field":"x","type":"quantitative","scale":{"domain":[-0.2,1.0],"nice":false,"zero":false},"axis":{"values":[-0.2,0,0.2,0.4,0.6,0.8,1.0],"title":null}},"y":{"field":"y","type":"quantitative","scale":{"domain":[-0.35,0.66],"nice":false,"zero":false},"axis":{"values":[-0.2,0,0.2,0.4,0.6],"title":"Y (m)"}}},
   "layer":[
    {"transform":[{"filter":"datum.g=='b'"}],"mark":{"type":"point","filled":true,"size":424,"strokeWidth":0.9,"opacity":1},"encoding":{"shape":{"field":"sh","type":"nominal","scale":{"domain":["R","T","C"],"range":["M-0.5,-1L0.5,-1L0.5,1L-0.5,1Z","M-0.2,-0.8L0.2,-0.8L0.2,-0.12L1.4,-0.12L1.4,0.12L0.2,0.12L0.2,0.8L-0.2,0.8Z","M0.82,0A0.82,0.82,0,1,1,-0.82,0A0.82,0.82,0,1,1,0.82,0Z"]},"legend":null},"fill":{"field":"k","type":"nominal","scale":{"domain":["ghost","start","goal","gcs","obs","sa","ga","gt"],"range":["rgba(170,170,170,0.3)","#45a845","#f7d21e","#5f6e5c","#e8271f","#8dd0ee","#d8a443","#c0502a"]},"legend":null},"stroke":{"field":"k","type":"nominal","scale":{"domain":["ghost","start","goal","gcs","obs","sa","ga","gt"],"range":["rgba(140,140,140,0.45)","#1f4f9f","#d9241f","#1f4f9f","#222222","#8dd0ee","#d8a443","#c0502a"]},"legend":null},"angle":{"field":"a","type":"quantitative","scale":null}}},
    {"transform":[{"filter":"datum.g=='a'"}],"mark":{"type":"rule","strokeWidth":2.5},"encoding":{"x2":{"field":"x2"},"y2":{"field":"y2"},"stroke":{"field":"k","type":"nominal","scale":{"domain":["ghost","start","goal","gcs","obs","sa","ga","gt"],"range":["rgba(140,140,140,0.45)","#1f4f9f","#d9241f","#1f4f9f","#222222","#8dd0ee","#d8a443","#c0502a"]},"legend":null}}},
    {"transform":[{"filter":"datum.g=='h'"}],"mark":{"type":"point","shape":"triangle-right","filled":true,"size":40,"stroke":"#333","strokeWidth":0.5,"opacity":1},"encoding":{"fill":{"field":"k","type":"nominal","scale":{"domain":["ghost","start","goal","gcs","obs","sa","ga","gt"],"range":["rgba(170,170,170,0.3)","#45a845","#f7d21e","#5f6e5c","#e8271f","#8dd0ee","#d8a443","#c0502a"]},"legend":null},"angle":{"field":"a","type":"quantitative","scale":null}}},
    {"transform":[{"filter":"datum.g=='t'"}],"mark":{"type":"line","color":"#111","strokeWidth":1.6,"point":{"filled":true,"size":7,"color":"#111"}},"encoding":{"order":{"field":"i","type":"quantitative"},"detail":{"field":"k","type":"nominal"}}},
    {"transform":[{"filter":"datum.g=='d'"}],"mark":{"type":"point","filled":true,"size":10,"opacity":1},"encoding":{"color":{"field":"k","type":"nominal","scale":{"domain":["Start","Goal"],"range":["#1f4f9f","#e3221c"]},"legend":{"title":null}}}}
   ]},
  {"width":123,"height":104,"title":"ours (w/o UKF)","data":{"name":"d"},"transform":[{"filter":"datum.p=='a2'"}],
   "encoding":{"x":{"field":"x","type":"quantitative","scale":{"domain":[-0.2,1.0],"nice":false,"zero":false},"axis":{"values":[-0.2,0,0.2,0.4,0.6,0.8,1.0],"title":null}},"y":{"field":"y","type":"quantitative","scale":{"domain":[-0.35,0.66],"nice":false,"zero":false},"axis":{"values":[-0.2,0,0.2,0.4,0.6],"title":null}}},
   "layer":[
    {"transform":[{"filter":"datum.g=='b'"}],"mark":{"type":"point","filled":true,"size":424,"strokeWidth":0.9,"opacity":1},"encoding":{"shape":{"field":"sh","type":"nominal","scale":{"domain":["R","T","C"],"range":["M-0.5,-1L0.5,-1L0.5,1L-0.5,1Z","M-0.2,-0.8L0.2,-0.8L0.2,-0.12L1.4,-0.12L1.4,0.12L0.2,0.12L0.2,0.8L-0.2,0.8Z","M0.82,0A0.82,0.82,0,1,1,-0.82,0A0.82,0.82,0,1,1,0.82,0Z"]},"legend":null},"fill":{"field":"k","type":"nominal","scale":{"domain":["ghost","start","goal","gcs","obs","sa","ga","gt"],"range":["rgba(170,170,170,0.3)","#45a845","#f7d21e","#5f6e5c","#e8271f","#8dd0ee","#d8a443","#c0502a"]},"legend":null},"stroke":{"field":"k","type":"nominal","scale":{"domain":["ghost","start","goal","gcs","obs","sa","ga","gt"],"range":["rgba(140,140,140,0.45)","#1f4f9f","#d9241f","#1f4f9f","#222222","#8dd0ee","#d8a443","#c0502a"]},"legend":null},"angle":{"field":"a","type":"quantitative","scale":null}}},
    {"transform":[{"filter":"datum.g=='a'"}],"mark":{"type":"rule","strokeWidth":2.5},"encoding":{"x2":{"field":"x2"},"y2":{"field":"y2"},"stroke":{"field":"k","type":"nominal","scale":{"domain":["ghost","start","goal","gcs","obs","sa","ga","gt"],"range":["rgba(140,140,140,0.45)","#1f4f9f","#d9241f","#1f4f9f","#222222","#8dd0ee","#d8a443","#c0502a"]},"legend":null}}},
    {"transform":[{"filter":"datum.g=='h'"}],"mark":{"type":"point","shape":"triangle-right","filled":true,"size":40,"stroke":"#333","strokeWidth":0.5,"opacity":1},"encoding":{"fill":{"field":"k","type":"nominal","scale":{"domain":["ghost","start","goal","gcs","obs","sa","ga","gt"],"range":["rgba(170,170,170,0.3)","#45a845","#f7d21e","#5f6e5c","#e8271f","#8dd0ee","#d8a443","#c0502a"]},"legend":null},"angle":{"field":"a","type":"quantitative","scale":null}}},
    {"transform":[{"filter":"datum.g=='t'"}],"mark":{"type":"line","color":"#111","strokeWidth":0.8,"point":{"filled":true,"size":4,"color":"#111"}},"encoding":{"order":{"field":"i","type":"quantitative"},"detail":{"field":"k","type":"nominal"}}},
    {"transform":[{"filter":"datum.g=='d'"}],"mark":{"type":"point","filled":true,"size":10,"opacity":1},"encoding":{"color":{"field":"k","type":"nominal","scale":{"domain":["Start","Goal"],"range":["#1f4f9f","#e3221c"]},"legend":{"title":null}}}}
   ]},
  {"width":123,"height":104,"title":"ours (w/ UKF)","data":{"name":"d"},"transform":[{"filter":"datum.p=='a3'"}],
   "encoding":{"x":{"field":"x","type":"quantitative","scale":{"domain":[-0.2,1.0],"nice":false,"zero":false},"axis":{"values":[-0.2,0,0.2,0.4,0.6,0.8,1.0],"title":null}},"y":{"field":"y","type":"quantitative","scale":{"domain":[-0.35,0.66],"nice":false,"zero":false},"axis":{"values":[-0.2,0,0.2,0.4,0.6],"title":null}}},
   "layer":[
    {"transform":[{"filter":"datum.g=='b'"}],"mark":{"type":"point","filled":true,"size":424,"strokeWidth":0.9,"opacity":1},"encoding":{"shape":{"field":"sh","type":"nominal","scale":{"domain":["R","T","C"],"range":["M-0.5,-1L0.5,-1L0.5,1L-0.5,1Z","M-0.2,-0.8L0.2,-0.8L0.2,-0.12L1.4,-0.12L1.4,0.12L0.2,0.12L0.2,0.8L-0.2,0.8Z","M0.82,0A0.82,0.82,0,1,1,-0.82,0A0.82,0.82,0,1,1,0.82,0Z"]},"legend":null},"fill":{"field":"k","type":"nominal","scale":{"domain":["ghost","start","goal","gcs","obs","sa","ga","gt"],"range":["rgba(170,170,170,0.3)","#45a845","#f7d21e","#5f6e5c","#e8271f","#8dd0ee","#d8a443","#c0502a"]},"legend":null},"stroke":{"field":"k","type":"nominal","scale":{"domain":["ghost","start","goal","gcs","obs","sa","ga","gt"],"range":["rgba(140,140,140,0.45)","#1f4f9f","#d9241f","#1f4f9f","#222222","#8dd0ee","#d8a443","#c0502a"]},"legend":null},"angle":{"field":"a","type":"quantitative","scale":null}}},
    {"transform":[{"filter":"datum.g=='a'"}],"mark":{"type":"rule","strokeWidth":2.5},"encoding":{"x2":{"field":"x2"},"y2":{"field":"y2"},"stroke":{"field":"k","type":"nominal","scale":{"domain":["ghost","start","goal","gcs","obs","sa","ga","gt"],"range":["rgba(140,140,140,0.45)","#1f4f9f","#d9241f","#1f4f9f","#222222","#8dd0ee","#d8a443","#c0502a"]},"legend":null}}},
    {"transform":[{"filter":"datum.g=='h'"}],"mark":{"type":"point","shape":"triangle-right","filled":true,"size":40,"stroke":"#333","strokeWidth":0.5,"opacity":1},"encoding":{"fill":{"field":"k","type":"nominal","scale":{"domain":["ghost","start","goal","gcs","obs","sa","ga","gt"],"range":["rgba(170,170,170,0.3)","#45a845","#f7d21e","#5f6e5c","#e8271f","#8dd0ee","#d8a443","#c0502a"]},"legend":null},"angle":{"field":"a","type":"quantitative","scale":null}}},
    {"transform":[{"filter":"datum.g=='t'"}],"mark":{"type":"line","color":"#111","strokeWidth":0.8,"point":{"filled":true,"size":4,"color":"#111"}},"encoding":{"order":{"field":"i","type":"quantitative"},"detail":{"field":"k","type":"nominal"}}},
    {"transform":[{"filter":"datum.g=='d'"}],"mark":{"type":"point","filled":true,"size":10,"opacity":1},"encoding":{"color":{"field":"k","type":"nominal","scale":{"domain":["Start","Goal"],"range":["#1f4f9f","#e3221c"]},"legend":{"title":null}}}}
   ]}
 ],"bounds":"flush","spacing":23,"resolve":{"scale":{"color":"independent"}},
 "title":{"text":"(re-positioning)","fontSize":20,"fontStyle":"italic","anchor":"middle","align":"left","dx":-21,"offset":8}},
 {"hconcat":[
  {"width":124,"height":104,"data":{"name":"d"},"transform":[{"filter":"datum.p=='a4'"}],
   "encoding":{"x":{"field":"x","type":"quantitative","scale":{"domain":[-0.2,1.0],"nice":false,"zero":false},"axis":{"values":[-0.2,0,0.2,0.4,0.6,0.8,1.0],"title":"X (m)"}},"y":{"field":"y","type":"quantitative","scale":{"domain":[-0.35,0.66],"nice":false,"zero":false},"axis":{"values":[-0.2,0,0.2,0.4,0.6],"title":"Y (m)"}}},
   "layer":[
    {"transform":[{"filter":"datum.g=='b'"}],"mark":{"type":"point","filled":true,"size":424,"strokeWidth":0.9,"opacity":1},"encoding":{"shape":{"field":"sh","type":"nominal","scale":{"domain":["R","T","C"],"range":["M-0.5,-1L0.5,-1L0.5,1L-0.5,1Z","M-0.2,-0.8L0.2,-0.8L0.2,-0.12L1.4,-0.12L1.4,0.12L0.2,0.12L0.2,0.8L-0.2,0.8Z","M0.82,0A0.82,0.82,0,1,1,-0.82,0A0.82,0.82,0,1,1,0.82,0Z"]},"legend":null},"fill":{"field":"k","type":"nominal","scale":{"domain":["ghost","start","goal","gcs","obs","sa","ga","gt"],"range":["rgba(170,170,170,0.3)","#45a845","#f7d21e","#5f6e5c","#e8271f","#8dd0ee","#d8a443","#c0502a"]},"legend":null},"stroke":{"field":"k","type":"nominal","scale":{"domain":["ghost","start","goal","gcs","obs","sa","ga","gt"],"range":["rgba(140,140,140,0.45)","#1f4f9f","#d9241f","#1f4f9f","#222222","#8dd0ee","#d8a443","#c0502a"]},"legend":null},"angle":{"field":"a","type":"quantitative","scale":null}}},
    {"transform":[{"filter":"datum.g=='a'"}],"mark":{"type":"rule","strokeWidth":2.5},"encoding":{"x2":{"field":"x2"},"y2":{"field":"y2"},"stroke":{"field":"k","type":"nominal","scale":{"domain":["ghost","start","goal","gcs","obs","sa","ga","gt"],"range":["rgba(140,140,140,0.45)","#1f4f9f","#d9241f","#1f4f9f","#222222","#8dd0ee","#d8a443","#c0502a"]},"legend":null}}},
    {"transform":[{"filter":"datum.g=='h'"}],"mark":{"type":"point","shape":"triangle-right","filled":true,"size":40,"stroke":"#333","strokeWidth":0.5,"opacity":1},"encoding":{"fill":{"field":"k","type":"nominal","scale":{"domain":["ghost","start","goal","gcs","obs","sa","ga","gt"],"range":["rgba(170,170,170,0.3)","#45a845","#f7d21e","#5f6e5c","#e8271f","#8dd0ee","#d8a443","#c0502a"]},"legend":null},"angle":{"field":"a","type":"quantitative","scale":null}}},
    {"transform":[{"filter":"datum.g=='t'"}],"mark":{"type":"line","color":"#111","strokeWidth":1.6,"point":{"filled":true,"size":7,"color":"#111"}},"encoding":{"order":{"field":"i","type":"quantitative"},"detail":{"field":"k","type":"nominal"}}},
    {"transform":[{"filter":"datum.g=='d'"}],"mark":{"type":"point","filled":true,"size":10,"opacity":1},"encoding":{"color":{"field":"k","type":"nominal","scale":{"domain":["Start","Goal"],"range":["#1f4f9f","#e3221c"]},"legend":{"title":null}}}}
   ]},
  {"width":123,"height":104,"data":{"name":"d"},"transform":[{"filter":"datum.p=='a5'"}],
   "encoding":{"x":{"field":"x","type":"quantitative","scale":{"domain":[-0.2,1.0],"nice":false,"zero":false},"axis":{"values":[-0.2,0,0.2,0.4,0.6,0.8,1.0],"title":"X (m)"}},"y":{"field":"y","type":"quantitative","scale":{"domain":[-0.35,0.66],"nice":false,"zero":false},"axis":{"values":[-0.2,0,0.2,0.4,0.6],"title":null}}},
   "layer":[
    {"transform":[{"filter":"datum.g=='b'"}],"mark":{"type":"point","filled":true,"size":424,"strokeWidth":0.9,"opacity":1},"encoding":{"shape":{"field":"sh","type":"nominal","scale":{"domain":["R","T","C"],"range":["M-0.5,-1L0.5,-1L0.5,1L-0.5,1Z","M-0.2,-0.8L0.2,-0.8L0.2,-0.12L1.4,-0.12L1.4,0.12L0.2,0.12L0.2,0.8L-0.2,0.8Z","M0.82,0A0.82,0.82,0,1,1,-0.82,0A0.82,0.82,0,1,1,0.82,0Z"]},"legend":null},"fill":{"field":"k","type":"nominal","scale":{"domain":["ghost","start","goal","gcs","obs","sa","ga","gt"],"range":["rgba(170,170,170,0.3)","#45a845","#f7d21e","#5f6e5c","#e8271f","#8dd0ee","#d8a443","#c0502a"]},"legend":null},"stroke":{"field":"k","type":"nominal","scale":{"domain":["ghost","start","goal","gcs","obs","sa","ga","gt"],"range":["rgba(140,140,140,0.45)","#1f4f9f","#d9241f","#1f4f9f","#222222","#8dd0ee","#d8a443","#c0502a"]},"legend":null},"angle":{"field":"a","type":"quantitative","scale":null}}},
    {"transform":[{"filter":"datum.g=='a'"}],"mark":{"type":"rule","strokeWidth":2.5},"encoding":{"x2":{"field":"x2"},"y2":{"field":"y2"},"stroke":{"field":"k","type":"nominal","scale":{"domain":["ghost","start","goal","gcs","obs","sa","ga","gt"],"range":["rgba(140,140,140,0.45)","#1f4f9f","#d9241f","#1f4f9f","#222222","#8dd0ee","#d8a443","#c0502a"]},"legend":null}}},
    {"transform":[{"filter":"datum.g=='h'"}],"mark":{"type":"point","shape":"triangle-right","filled":true,"size":40,"stroke":"#333","strokeWidth":0.5,"opacity":1},"encoding":{"fill":{"field":"k","type":"nominal","scale":{"domain":["ghost","start","goal","gcs","obs","sa","ga","gt"],"range":["rgba(170,170,170,0.3)","#45a845","#f7d21e","#5f6e5c","#e8271f","#8dd0ee","#d8a443","#c0502a"]},"legend":null},"angle":{"field":"a","type":"quantitative","scale":null}}},
    {"transform":[{"filter":"datum.g=='t'"}],"mark":{"type":"line","color":"#111","strokeWidth":0.8,"point":{"filled":true,"size":4,"color":"#111"}},"encoding":{"order":{"field":"i","type":"quantitative"},"detail":{"field":"k","type":"nominal"}}},
    {"transform":[{"filter":"datum.g=='d'"}],"mark":{"type":"point","filled":true,"size":10,"opacity":1},"encoding":{"color":{"field":"k","type":"nominal","scale":{"domain":["Start","Goal"],"range":["#1f4f9f","#e3221c"]},"legend":{"title":null}}}}
   ]},
  {"width":123,"height":104,"data":{"name":"d"},"transform":[{"filter":"datum.p=='a6'"}],
   "encoding":{"x":{"field":"x","type":"quantitative","scale":{"domain":[-0.2,1.0],"nice":false,"zero":false},"axis":{"values":[-0.2,0,0.2,0.4,0.6,0.8,1.0],"title":"X (m)"}},"y":{"field":"y","type":"quantitative","scale":{"domain":[-0.35,0.66],"nice":false,"zero":false},"axis":{"values":[-0.2,0,0.2,0.4,0.6],"title":null}}},
   "layer":[
    {"transform":[{"filter":"datum.g=='b'"}],"mark":{"type":"point","filled":true,"size":424,"strokeWidth":0.9,"opacity":1},"encoding":{"shape":{"field":"sh","type":"nominal","scale":{"domain":["R","T","C"],"range":["M-0.5,-1L0.5,-1L0.5,1L-0.5,1Z","M-0.2,-0.8L0.2,-0.8L0.2,-0.12L1.4,-0.12L1.4,0.12L0.2,0.12L0.2,0.8L-0.2,0.8Z","M0.82,0A0.82,0.82,0,1,1,-0.82,0A0.82,0.82,0,1,1,0.82,0Z"]},"legend":null},"fill":{"field":"k","type":"nominal","scale":{"domain":["ghost","start","goal","gcs","obs","sa","ga","gt"],"range":["rgba(170,170,170,0.3)","#45a845","#f7d21e","#5f6e5c","#e8271f","#8dd0ee","#d8a443","#c0502a"]},"legend":null},"stroke":{"field":"k","type":"nominal","scale":{"domain":["ghost","start","goal","gcs","obs","sa","ga","gt"],"range":["rgba(140,140,140,0.45)","#1f4f9f","#d9241f","#1f4f9f","#222222","#8dd0ee","#d8a443","#c0502a"]},"legend":null},"angle":{"field":"a","type":"quantitative","scale":null}}},
    {"transform":[{"filter":"datum.g=='a'"}],"mark":{"type":"rule","strokeWidth":2.5},"encoding":{"x2":{"field":"x2"},"y2":{"field":"y2"},"stroke":{"field":"k","type":"nominal","scale":{"domain":["ghost","start","goal","gcs","obs","sa","ga","gt"],"range":["rgba(140,140,140,0.45)","#1f4f9f","#d9241f","#1f4f9f","#222222","#8dd0ee","#d8a443","#c0502a"]},"legend":null}}},
    {"transform":[{"filter":"datum.g=='h'"}],"mark":{"type":"point","shape":"triangle-right","filled":true,"size":40,"stroke":"#333","strokeWidth":0.5,"opacity":1},"encoding":{"fill":{"field":"k","type":"nominal","scale":{"domain":["ghost","start","goal","gcs","obs","sa","ga","gt"],"range":["rgba(170,170,170,0.3)","#45a845","#f7d21e","#5f6e5c","#e8271f","#8dd0ee","#d8a443","#c0502a"]},"legend":null},"angle":{"field":"a","type":"quantitative","scale":null}}},
    {"transform":[{"filter":"datum.g=='t'"}],"mark":{"type":"line","color":"#111","strokeWidth":0.8,"point":{"filled":true,"size":4,"color":"#111"}},"encoding":{"order":{"field":"i","type":"quantitative"},"detail":{"field":"k","type":"nominal"}}},
    {"transform":[{"filter":"datum.g=='d'"}],"mark":{"type":"point","filled":true,"size":10,"opacity":1},"encoding":{"color":{"field":"k","type":"nominal","scale":{"domain":["Start","Goal"],"range":["#1f4f9f","#e3221c"]},"legend":{"title":null}}}}
   ]}
 ],"bounds":"flush","spacing":23,"resolve":{"scale":{"color":"independent"}}}
],"spacing":26,"resolve":{"scale":{"color":"independent"}},
"title":{"text":"Task I","fontSize":20,"fontWeight":"bold","anchor":"middle","align":"right","dx":-25,"dy":20,"offset":0}},

{"hconcat":[
 {"width":1,"height":268,"data":{"values":[]},"mark":"point","view":{"stroke":null}},
 {"vconcat":[
  {"hconcat":[
   {"width":114,"height":114,"title":"GCS","data":{"name":"d"},"transform":[{"filter":"datum.p=='b1'"}],
    "encoding":{"x":{"field":"x","type":"quantitative","scale":{"domain":[-0.4,0.4],"nice":false,"zero":false},"axis":{"values":[-0.4,-0.2,0,0.2,0.4],"title":null}},"y":{"field":"y","type":"quantitative","scale":{"domain":[-0.4,0.4],"nice":false,"zero":false},"axis":{"values":[-0.4,-0.3,-0.2,-0.1,0,0.1,0.2,0.3,0.4],"title":"Y (m)"}}},
    "layer":[
     {"transform":[{"filter":"datum.g=='b'"}],"mark":{"type":"point","filled":true,"size":812,"strokeWidth":0.9,"opacity":1},"encoding":{"shape":{"field":"sh","type":"nominal","scale":{"domain":["R","T","C"],"range":["M-0.5,-1L0.5,-1L0.5,1L-0.5,1Z","M-0.2,-0.8L0.2,-0.8L0.2,-0.12L1.4,-0.12L1.4,0.12L0.2,0.12L0.2,0.8L-0.2,0.8Z","M0.82,0A0.82,0.82,0,1,1,-0.82,0A0.82,0.82,0,1,1,0.82,0Z"]},"legend":null},"fill":{"field":"k","type":"nominal","scale":{"domain":["ghost","start","goal","gcs","obs","sa","ga","gt"],"range":["rgba(170,170,170,0.3)","#45a845","#f7d21e","#5f6e5c","#e8271f","#8dd0ee","#d8a443","#c0502a"]},"legend":null},"stroke":{"field":"k","type":"nominal","scale":{"domain":["ghost","start","goal","gcs","obs","sa","ga","gt"],"range":["rgba(140,140,140,0.45)","#1f4f9f","#d9241f","#1f4f9f","#222222","#8dd0ee","#d8a443","#c0502a"]},"legend":null},"angle":{"field":"a","type":"quantitative","scale":null}}},
     {"transform":[{"filter":"datum.g=='a'"}],"mark":{"type":"rule","strokeWidth":3.5},"encoding":{"x2":{"field":"x2"},"y2":{"field":"y2"},"stroke":{"field":"k","type":"nominal","scale":{"domain":["ghost","start","goal","gcs","obs","sa","ga","gt"],"range":["rgba(140,140,140,0.45)","#1f4f9f","#d9241f","#1f4f9f","#222222","#8dd0ee","#d8a443","#c0502a"]},"legend":null}}},
     {"transform":[{"filter":"datum.g=='h'"}],"mark":{"type":"point","shape":"triangle-right","filled":true,"size":90,"stroke":"#333","strokeWidth":0.5,"opacity":1},"encoding":{"fill":{"field":"k","type":"nominal","scale":{"domain":["ghost","start","goal","gcs","obs","sa","ga","gt"],"range":["rgba(170,170,170,0.3)","#45a845","#f7d21e","#5f6e5c","#e8271f","#8dd0ee","#d8a443","#c0502a"]},"legend":null},"angle":{"field":"a","type":"quantitative","scale":null}}},
     {"transform":[{"filter":"datum.g=='t'"}],"mark":{"type":"line","color":"#111","strokeWidth":1.2,"point":{"filled":true,"size":7,"color":"#111"}},"encoding":{"order":{"field":"i","type":"quantitative"},"detail":{"field":"k","type":"nominal"}}},
     {"transform":[{"filter":"datum.g=='d'"}],"mark":{"type":"point","filled":true,"size":10,"opacity":1},"encoding":{"color":{"field":"k","type":"nominal","scale":{"domain":["Start","Goal"],"range":["#1f4f9f","#e3221c"]},"legend":{"title":null}}}}
    ]},
   {"width":114,"height":114,"title":"ours (w/o UKF)","data":{"name":"d"},"transform":[{"filter":"datum.p=='b2'"}],
    "encoding":{"x":{"field":"x","type":"quantitative","scale":{"domain":[-0.3,0.3],"nice":false,"zero":false},"axis":{"values":[-0.3,-0.2,-0.1,0,0.1,0.2,0.3],"title":null}},"y":{"field":"y","type":"quantitative","scale":{"domain":[-0.3,0.3],"nice":false,"zero":false},"axis":{"values":[-0.3,-0.2,-0.1,0,0.1,0.2,0.3],"title":null}}},
    "layer":[
     {"transform":[{"filter":"datum.g=='b'"}],"mark":{"type":"point","filled":true,"size":1475,"strokeWidth":0.9,"opacity":1},"encoding":{"shape":{"field":"sh","type":"nominal","scale":{"domain":["R","T","C"],"range":["M-0.5,-1L0.5,-1L0.5,1L-0.5,1Z","M-0.2,-0.8L0.2,-0.8L0.2,-0.12L1.4,-0.12L1.4,0.12L0.2,0.12L0.2,0.8L-0.2,0.8Z","M0.82,0A0.82,0.82,0,1,1,-0.82,0A0.82,0.82,0,1,1,0.82,0Z"]},"legend":null},"fill":{"field":"k","type":"nominal","scale":{"domain":["ghost","start","goal","gcs","obs","sa","ga","gt"],"range":["rgba(170,170,170,0.3)","#45a845","#f7d21e","#5f6e5c","#e8271f","#8dd0ee","#d8a443","#c0502a"]},"legend":null},"stroke":{"field":"k","type":"nominal","scale":{"domain":["ghost","start","goal","gcs","obs","sa","ga","gt"],"range":["rgba(140,140,140,0.45)","#1f4f9f","#d9241f","#1f4f9f","#222222","#8dd0ee","#d8a443","#c0502a"]},"legend":null},"angle":{"field":"a","type":"quantitative","scale":null}}},
     {"transform":[{"filter":"datum.g=='a'"}],"mark":{"type":"rule","strokeWidth":4.5},"encoding":{"x2":{"field":"x2"},"y2":{"field":"y2"},"stroke":{"field":"k","type":"nominal","scale":{"domain":["ghost","start","goal","gcs","obs","sa","ga","gt"],"range":["rgba(140,140,140,0.45)","#1f4f9f","#d9241f","#1f4f9f","#222222","#8dd0ee","#d8a443","#c0502a"]},"legend":null}}},
     {"transform":[{"filter":"datum.g=='h'"}],"mark":{"type":"point","shape":"triangle-right","filled":true,"size":140,"stroke":"#333","strokeWidth":0.5,"opacity":1},"encoding":{"fill":{"field":"k","type":"nominal","scale":{"domain":["ghost","start","goal","gcs","obs","sa","ga","gt"],"range":["rgba(170,170,170,0.3)","#45a845","#f7d21e","#5f6e5c","#e8271f","#8dd0ee","#d8a443","#c0502a"]},"legend":null},"angle":{"field":"a","type":"quantitative","scale":null}}},
     {"transform":[{"filter":"datum.g=='t'"}],"mark":{"type":"line","color":"#111","strokeWidth":0.8,"point":{"filled":true,"size":4,"color":"#111"}},"encoding":{"order":{"field":"i","type":"quantitative"},"detail":{"field":"k","type":"nominal"}}},
     {"transform":[{"filter":"datum.g=='d'"}],"mark":{"type":"point","filled":true,"size":10,"opacity":1},"encoding":{"color":{"field":"k","type":"nominal","scale":{"domain":["Start","Goal"],"range":["#1f4f9f","#e3221c"]},"legend":{"title":null}}}}
    ]},
   {"width":114,"height":114,"title":"ours (w/ UKF)","data":{"name":"d"},"transform":[{"filter":"datum.p=='b3'"}],
    "encoding":{"x":{"field":"x","type":"quantitative","scale":{"domain":[-0.3,0.3],"nice":false,"zero":false},"axis":{"values":[-0.3,-0.2,-0.1,0,0.1,0.2,0.3],"title":null}},"y":{"field":"y","type":"quantitative","scale":{"domain":[-0.3,0.3],"nice":false,"zero":false},"axis":{"values":[-0.3,-0.2,-0.1,0,0.1,0.2,0.3],"title":null}}},
    "layer":[
     {"transform":[{"filter":"datum.g=='b'"}],"mark":{"type":"point","filled":true,"size":1475,"strokeWidth":0.9,"opacity":1},"encoding":{"shape":{"field":"sh","type":"nominal","scale":{"domain":["R","T","C"],"range":["M-0.5,-1L0.5,-1L0.5,1L-0.5,1Z","M-0.2,-0.8L0.2,-0.8L0.2,-0.12L1.4,-0.12L1.4,0.12L0.2,0.12L0.2,0.8L-0.2,0.8Z","M0.82,0A0.82,0.82,0,1,1,-0.82,0A0.82,0.82,0,1,1,0.82,0Z"]},"legend":null},"fill":{"field":"k","type":"nominal","scale":{"domain":["ghost","start","goal","gcs","obs","sa","ga","gt"],"range":["rgba(170,170,170,0.3)","#45a845","#f7d21e","#5f6e5c","#e8271f","#8dd0ee","#d8a443","#c0502a"]},"legend":null},"stroke":{"field":"k","type":"nominal","scale":{"domain":["ghost","start","goal","gcs","obs","sa","ga","gt"],"range":["rgba(140,140,140,0.45)","#1f4f9f","#d9241f","#1f4f9f","#222222","#8dd0ee","#d8a443","#c0502a"]},"legend":null},"angle":{"field":"a","type":"quantitative","scale":null}}},
     {"transform":[{"filter":"datum.g=='a'"}],"mark":{"type":"rule","strokeWidth":4.5},"encoding":{"x2":{"field":"x2"},"y2":{"field":"y2"},"stroke":{"field":"k","type":"nominal","scale":{"domain":["ghost","start","goal","gcs","obs","sa","ga","gt"],"range":["rgba(140,140,140,0.45)","#1f4f9f","#d9241f","#1f4f9f","#222222","#8dd0ee","#d8a443","#c0502a"]},"legend":null}}},
     {"transform":[{"filter":"datum.g=='h'"}],"mark":{"type":"point","shape":"triangle-right","filled":true,"size":140,"stroke":"#333","strokeWidth":0.5,"opacity":1},"encoding":{"fill":{"field":"k","type":"nominal","scale":{"domain":["ghost","start","goal","gcs","obs","sa","ga","gt"],"range":["rgba(170,170,170,0.3)","#45a845","#f7d21e","#5f6e5c","#e8271f","#8dd0ee","#d8a443","#c0502a"]},"legend":null},"angle":{"field":"a","type":"quantitative","scale":null}}},
     {"transform":[{"filter":"datum.g=='t'"}],"mark":{"type":"line","color":"#111","strokeWidth":0.8,"point":{"filled":true,"size":4,"color":"#111"}},"encoding":{"order":{"field":"i","type":"quantitative"},"detail":{"field":"k","type":"nominal"}}},
     {"transform":[{"filter":"datum.g=='d'"}],"mark":{"type":"point","filled":true,"size":10,"opacity":1},"encoding":{"color":{"field":"k","type":"nominal","scale":{"domain":["Start","Goal"],"range":["#1f4f9f","#e3221c"]},"legend":{"title":null}}}}
    ]}
  ],"bounds":"flush","spacing":24,"resolve":{"scale":{"color":"independent"}},
  "title":{"text":"(re-orienting)","fontSize":20,"fontStyle":"italic","anchor":"middle","align":"left","dx":-47,"offset":8}},
  {"hconcat":[
   {"width":114,"height":114,"data":{"name":"d"},"transform":[{"filter":"datum.p=='b4'"}],
    "encoding":{"x":{"field":"x","type":"quantitative","scale":{"domain":[-0.4,0.4],"nice":false,"zero":false},"axis":{"values":[-0.4,-0.2,0,0.2,0.4],"title":"X (m)"}},"y":{"field":"y","type":"quantitative","scale":{"domain":[-0.4,0.4],"nice":false,"zero":false},"axis":{"values":[-0.4,-0.3,-0.2,-0.1,0,0.1,0.2,0.3,0.4],"title":"Y (m)"}}},
    "layer":[
     {"transform":[{"filter":"datum.g=='b'"}],"mark":{"type":"point","filled":true,"size":812,"strokeWidth":0.9,"opacity":1},"encoding":{"shape":{"field":"sh","type":"nominal","scale":{"domain":["R","T","C"],"range":["M-0.5,-1L0.5,-1L0.5,1L-0.5,1Z","M-0.2,-0.8L0.2,-0.8L0.2,-0.12L1.4,-0.12L1.4,0.12L0.2,0.12L0.2,0.8L-0.2,0.8Z","M0.82,0A0.82,0.82,0,1,1,-0.82,0A0.82,0.82,0,1,1,0.82,0Z"]},"legend":null},"fill":{"field":"k","type":"nominal","scale":{"domain":["ghost","start","goal","gcs","obs","sa","ga","gt"],"range":["rgba(170,170,170,0.3)","#45a845","#f7d21e","#5f6e5c","#e8271f","#8dd0ee","#d8a443","#c0502a"]},"legend":null},"stroke":{"field":"k","type":"nominal","scale":{"domain":["ghost","start","goal","gcs","obs","sa","ga","gt"],"range":["rgba(140,140,140,0.45)","#1f4f9f","#d9241f","#1f4f9f","#222222","#8dd0ee","#d8a443","#c0502a"]},"legend":null},"angle":{"field":"a","type":"quantitative","scale":null}}},
     {"transform":[{"filter":"datum.g=='a'"}],"mark":{"type":"rule","strokeWidth":3.5},"encoding":{"x2":{"field":"x2"},"y2":{"field":"y2"},"stroke":{"field":"k","type":"nominal","scale":{"domain":["ghost","start","goal","gcs","obs","sa","ga","gt"],"range":["rgba(140,140,140,0.45)","#1f4f9f","#d9241f","#1f4f9f","#222222","#8dd0ee","#d8a443","#c0502a"]},"legend":null}}},
     {"transform":[{"filter":"datum.g=='h'"}],"mark":{"type":"point","shape":"triangle-right","filled":true,"size":90,"stroke":"#333","strokeWidth":0.5,"opacity":1},"encoding":{"fill":{"field":"k","type":"nominal","scale":{"domain":["ghost","start","goal","gcs","obs","sa","ga","gt"],"range":["rgba(170,170,170,0.3)","#45a845","#f7d21e","#5f6e5c","#e8271f","#8dd0ee","#d8a443","#c0502a"]},"legend":null},"angle":{"field":"a","type":"quantitative","scale":null}}},
     {"transform":[{"filter":"datum.g=='t'"}],"mark":{"type":"line","color":"#111","strokeWidth":1.2,"point":{"filled":true,"size":7,"color":"#111"}},"encoding":{"order":{"field":"i","type":"quantitative"},"detail":{"field":"k","type":"nominal"}}},
     {"transform":[{"filter":"datum.g=='d'"}],"mark":{"type":"point","filled":true,"size":10,"opacity":1},"encoding":{"color":{"field":"k","type":"nominal","scale":{"domain":["Start","Goal"],"range":["#1f4f9f","#e3221c"]},"legend":{"title":null}}}}
    ]},
   {"width":114,"height":114,"data":{"name":"d"},"transform":[{"filter":"datum.p=='b5'"}],
    "encoding":{"x":{"field":"x","type":"quantitative","scale":{"domain":[-0.3,0.3],"nice":false,"zero":false},"axis":{"values":[-0.3,-0.2,-0.1,0,0.1,0.2,0.3],"title":"X (m)"}},"y":{"field":"y","type":"quantitative","scale":{"domain":[-0.3,0.3],"nice":false,"zero":false},"axis":{"values":[-0.3,-0.2,-0.1,0,0.1,0.2,0.3],"title":null}}},
    "layer":[
     {"transform":[{"filter":"datum.g=='b'"}],"mark":{"type":"point","filled":true,"size":1475,"strokeWidth":0.9,"opacity":1},"encoding":{"shape":{"field":"sh","type":"nominal","scale":{"domain":["R","T","C"],"range":["M-0.5,-1L0.5,-1L0.5,1L-0.5,1Z","M-0.2,-0.8L0.2,-0.8L0.2,-0.12L1.4,-0.12L1.4,0.12L0.2,0.12L0.2,0.8L-0.2,0.8Z","M0.82,0A0.82,0.82,0,1,1,-0.82,0A0.82,0.82,0,1,1,0.82,0Z"]},"legend":null},"fill":{"field":"k","type":"nominal","scale":{"domain":["ghost","start","goal","gcs","obs","sa","ga","gt"],"range":["rgba(170,170,170,0.3)","#45a845","#f7d21e","#5f6e5c","#e8271f","#8dd0ee","#d8a443","#c0502a"]},"legend":null},"stroke":{"field":"k","type":"nominal","scale":{"domain":["ghost","start","goal","gcs","obs","sa","ga","gt"],"range":["rgba(140,140,140,0.45)","#1f4f9f","#d9241f","#1f4f9f","#222222","#8dd0ee","#d8a443","#c0502a"]},"legend":null},"angle":{"field":"a","type":"quantitative","scale":null}}},
     {"transform":[{"filter":"datum.g=='a'"}],"mark":{"type":"rule","strokeWidth":4.5},"encoding":{"x2":{"field":"x2"},"y2":{"field":"y2"},"stroke":{"field":"k","type":"nominal","scale":{"domain":["ghost","start","goal","gcs","obs","sa","ga","gt"],"range":["rgba(140,140,140,0.45)","#1f4f9f","#d9241f","#1f4f9f","#222222","#8dd0ee","#d8a443","#c0502a"]},"legend":null}}},
     {"transform":[{"filter":"datum.g=='h'"}],"mark":{"type":"point","shape":"triangle-right","filled":true,"size":140,"stroke":"#333","strokeWidth":0.5,"opacity":1},"encoding":{"fill":{"field":"k","type":"nominal","scale":{"domain":["ghost","start","goal","gcs","obs","sa","ga","gt"],"range":["rgba(170,170,170,0.3)","#45a845","#f7d21e","#5f6e5c","#e8271f","#8dd0ee","#d8a443","#c0502a"]},"legend":null},"angle":{"field":"a","type":"quantitative","scale":null}}},
     {"transform":[{"filter":"datum.g=='t'"}],"mark":{"type":"line","color":"#111","strokeWidth":0.8,"point":{"filled":true,"size":4,"color":"#111"}},"encoding":{"order":{"field":"i","type":"quantitative"},"detail":{"field":"k","type":"nominal"}}},
     {"transform":[{"filter":"datum.g=='d'"}],"mark":{"type":"point","filled":true,"size":10,"opacity":1},"encoding":{"color":{"field":"k","type":"nominal","scale":{"domain":["Start","Goal"],"range":["#1f4f9f","#e3221c"]},"legend":{"title":null}}}}
    ]},
   {"width":114,"height":114,"data":{"name":"d"},"transform":[{"filter":"datum.p=='b6'"}],
    "encoding":{"x":{"field":"x","type":"quantitative","scale":{"domain":[-0.3,0.3],"nice":false,"zero":false},"axis":{"values":[-0.3,-0.2,-0.1,0,0.1,0.2,0.3],"title":"X (m)"}},"y":{"field":"y","type":"quantitative","scale":{"domain":[-0.3,0.3],"nice":false,"zero":false},"axis":{"values":[-0.3,-0.2,-0.1,0,0.1,0.2,0.3],"title":null}}},
    "layer":[
     {"transform":[{"filter":"datum.g=='b'"}],"mark":{"type":"point","filled":true,"size":1475,"strokeWidth":0.9,"opacity":1},"encoding":{"shape":{"field":"sh","type":"nominal","scale":{"domain":["R","T","C"],"range":["M-0.5,-1L0.5,-1L0.5,1L-0.5,1Z","M-0.2,-0.8L0.2,-0.8L0.2,-0.12L1.4,-0.12L1.4,0.12L0.2,0.12L0.2,0.8L-0.2,0.8Z","M0.82,0A0.82,0.82,0,1,1,-0.82,0A0.82,0.82,0,1,1,0.82,0Z"]},"legend":null},"fill":{"field":"k","type":"nominal","scale":{"domain":["ghost","start","goal","gcs","obs","sa","ga","gt"],"range":["rgba(170,170,170,0.3)","#45a845","#f7d21e","#5f6e5c","#e8271f","#8dd0ee","#d8a443","#c0502a"]},"legend":null},"stroke":{"field":"k","type":"nominal","scale":{"domain":["ghost","start","goal","gcs","obs","sa","ga","gt"],"range":["rgba(140,140,140,0.45)","#1f4f9f","#d9241f","#1f4f9f","#222222","#8dd0ee","#d8a443","#c0502a"]},"legend":null},"angle":{"field":"a","type":"quantitative","scale":null}}},
     {"transform":[{"filter":"datum.g=='a'"}],"mark":{"type":"rule","strokeWidth":4.5},"encoding":{"x2":{"field":"x2"},"y2":{"field":"y2"},"stroke":{"field":"k","type":"nominal","scale":{"domain":["ghost","start","goal","gcs","obs","sa","ga","gt"],"range":["rgba(140,140,140,0.45)","#1f4f9f","#d9241f","#1f4f9f","#222222","#8dd0ee","#d8a443","#c0502a"]},"legend":null}}},
     {"transform":[{"filter":"datum.g=='h'"}],"mark":{"type":"point","shape":"triangle-right","filled":true,"size":140,"stroke":"#333","strokeWidth":0.5,"opacity":1},"encoding":{"fill":{"field":"k","type":"nominal","scale":{"domain":["ghost","start","goal","gcs","obs","sa","ga","gt"],"range":["rgba(170,170,170,0.3)","#45a845","#f7d21e","#5f6e5c","#e8271f","#8dd0ee","#d8a443","#c0502a"]},"legend":null},"angle":{"field":"a","type":"quantitative","scale":null}}},
     {"transform":[{"filter":"datum.g=='t'"}],"mark":{"type":"line","color":"#111","strokeWidth":0.8,"point":{"filled":true,"size":4,"color":"#111"}},"encoding":{"order":{"field":"i","type":"quantitative"},"detail":{"field":"k","type":"nominal"}}},
     {"transform":[{"filter":"datum.g=='d'"}],"mark":{"type":"point","filled":true,"size":10,"opacity":1},"encoding":{"color":{"field":"k","type":"nominal","scale":{"domain":["Start","Goal"],"range":["#1f4f9f","#e3221c"]},"legend":{"title":null}}}}
    ]}
  ],"bounds":"flush","spacing":24,"resolve":{"scale":{"color":"independent"}}}
 ],"spacing":4,"resolve":{"scale":{"color":"independent"}},
 "title":{"text":"Task II","fontSize":20,"fontWeight":"bold","anchor":"middle","align":"right","dx":-51,"dy":20,"offset":0}}
],"spacing":-5,"resolve":{"scale":{"color":"independent"}}},

{"hconcat":[
 {"width":51,"height":1,"data":{"values":[]},"mark":"point","view":{"stroke":null}},
 {"vconcat":[
  {"hconcat":[
   {"width":124,"height":104,"title":"ours (w/o UKF)","data":{"name":"d"},"transform":[{"filter":"datum.p=='c1'"}],
    "encoding":{"x":{"field":"x","type":"quantitative","scale":{"domain":[-0.2,1.0],"nice":false,"zero":false},"axis":{"values":[-0.2,0,0.2,0.4,0.6,0.8,1.0],"title":null}},"y":{"field":"y","type":"quantitative","scale":{"domain":[-0.36,0.65],"nice":false,"zero":false},"axis":{"values":[-0.2,0,0.2,0.4,0.6],"title":"Y (m)"}}},
    "layer":[
     {"transform":[{"filter":"datum.g=='b'"}],"mark":{"type":"point","filled":true,"size":424,"strokeWidth":0.9,"opacity":1},"encoding":{"shape":{"field":"sh","type":"nominal","scale":{"domain":["R","T","C"],"range":["M-0.5,-1L0.5,-1L0.5,1L-0.5,1Z","M-0.2,-0.8L0.2,-0.8L0.2,-0.12L1.4,-0.12L1.4,0.12L0.2,0.12L0.2,0.8L-0.2,0.8Z","M0.82,0A0.82,0.82,0,1,1,-0.82,0A0.82,0.82,0,1,1,0.82,0Z"]},"legend":null},"fill":{"field":"k","type":"nominal","scale":{"domain":["ghost","start","goal","gcs","obs","sa","ga","gt"],"range":["rgba(170,170,170,0.3)","#45a845","#f7d21e","#5f6e5c","#e8271f","#8dd0ee","#d8a443","#c0502a"]},"legend":null},"stroke":{"field":"k","type":"nominal","scale":{"domain":["ghost","start","goal","gcs","obs","sa","ga","gt"],"range":["rgba(140,140,140,0.45)","#1f4f9f","#d9241f","#1f4f9f","#222222","#8dd0ee","#d8a443","#c0502a"]},"legend":null},"angle":{"field":"a","type":"quantitative","scale":null}}},
     {"transform":[{"filter":"datum.g=='a'"}],"mark":{"type":"rule","strokeWidth":2.5},"encoding":{"x2":{"field":"x2"},"y2":{"field":"y2"},"stroke":{"field":"k","type":"nominal","scale":{"domain":["ghost","start","goal","gcs","obs","sa","ga","gt"],"range":["rgba(140,140,140,0.45)","#1f4f9f","#d9241f","#1f4f9f","#222222","#8dd0ee","#d8a443","#c0502a"]},"legend":null}}},
     {"transform":[{"filter":"datum.g=='h'"}],"mark":{"type":"point","shape":"triangle-right","filled":true,"size":40,"stroke":"#333","strokeWidth":0.5,"opacity":1},"encoding":{"fill":{"field":"k","type":"nominal","scale":{"domain":["ghost","start","goal","gcs","obs","sa","ga","gt"],"range":["rgba(170,170,170,0.3)","#45a845","#f7d21e","#5f6e5c","#e8271f","#8dd0ee","#d8a443","#c0502a"]},"legend":null},"angle":{"field":"a","type":"quantitative","scale":null}}},
     {"transform":[{"filter":"datum.g=='t'"}],"mark":{"type":"line","color":"#111","strokeWidth":0.8,"point":{"filled":true,"size":4,"color":"#111"}},"encoding":{"order":{"field":"i","type":"quantitative"},"detail":{"field":"k","type":"nominal"}}},
     {"transform":[{"filter":"datum.g=='d'"}],"mark":{"type":"point","filled":true,"size":10,"opacity":1},"encoding":{"color":{"field":"k","type":"nominal","scale":{"domain":["Start","Goal"],"range":["#1f4f9f","#e3221c"]},"legend":{"title":null}}}}
    ]},
   {"width":124,"height":104,"title":"ours (w/ UKF)","data":{"name":"d"},"transform":[{"filter":"datum.p=='c2'"}],
    "encoding":{"x":{"field":"x","type":"quantitative","scale":{"domain":[-0.2,1.0],"nice":false,"zero":false},"axis":{"values":[-0.2,0,0.2,0.4,0.6,0.8,1.0],"title":null}},"y":{"field":"y","type":"quantitative","scale":{"domain":[-0.36,0.65],"nice":false,"zero":false},"axis":{"values":[-0.2,0,0.2,0.4,0.6],"title":null}}},
    "layer":[
     {"transform":[{"filter":"datum.g=='b'"}],"mark":{"type":"point","filled":true,"size":424,"strokeWidth":0.9,"opacity":1},"encoding":{"shape":{"field":"sh","type":"nominal","scale":{"domain":["R","T","C"],"range":["M-0.5,-1L0.5,-1L0.5,1L-0.5,1Z","M-0.2,-0.8L0.2,-0.8L0.2,-0.12L1.4,-0.12L1.4,0.12L0.2,0.12L0.2,0.8L-0.2,0.8Z","M0.82,0A0.82,0.82,0,1,1,-0.82,0A0.82,0.82,0,1,1,0.82,0Z"]},"legend":null},"fill":{"field":"k","type":"nominal","scale":{"domain":["ghost","start","goal","gcs","obs","sa","ga","gt"],"range":["rgba(170,170,170,0.3)","#45a845","#f7d21e","#5f6e5c","#e8271f","#8dd0ee","#d8a443","#c0502a"]},"legend":null},"stroke":{"field":"k","type":"nominal","scale":{"domain":["ghost","start","goal","gcs","obs","sa","ga","gt"],"range":["rgba(140,140,140,0.45)","#1f4f9f","#d9241f","#1f4f9f","#222222","#8dd0ee","#d8a443","#c0502a"]},"legend":null},"angle":{"field":"a","type":"quantitative","scale":null}}},
     {"transform":[{"filter":"datum.g=='a'"}],"mark":{"type":"rule","strokeWidth":2.5},"encoding":{"x2":{"field":"x2"},"y2":{"field":"y2"},"stroke":{"field":"k","type":"nominal","scale":{"domain":["ghost","start","goal","gcs","obs","sa","ga","gt"],"range":["rgba(140,140,140,0.45)","#1f4f9f","#d9241f","#1f4f9f","#222222","#8dd0ee","#d8a443","#c0502a"]},"legend":null}}},
     {"transform":[{"filter":"datum.g=='h'"}],"mark":{"type":"point","shape":"triangle-right","filled":true,"size":40,"stroke":"#333","strokeWidth":0.5,"opacity":1},"encoding":{"fill":{"field":"k","type":"nominal","scale":{"domain":["ghost","start","goal","gcs","obs","sa","ga","gt"],"range":["rgba(170,170,170,0.3)","#45a845","#f7d21e","#5f6e5c","#e8271f","#8dd0ee","#d8a443","#c0502a"]},"legend":null},"angle":{"field":"a","type":"quantitative","scale":null}}},
     {"transform":[{"filter":"datum.g=='t'"}],"mark":{"type":"line","color":"#111","strokeWidth":0.8,"point":{"filled":true,"size":4,"color":"#111"}},"encoding":{"order":{"field":"i","type":"quantitative"},"detail":{"field":"k","type":"nominal"}}},
     {"transform":[{"filter":"datum.g=='d'"}],"mark":{"type":"point","filled":true,"size":10,"opacity":1},"encoding":{"color":{"field":"k","type":"nominal","scale":{"domain":["Start","Goal"],"range":["#1f4f9f","#e3221c"]},"legend":{"title":null}}}}
    ]}
  ],"bounds":"flush","spacing":25,"resolve":{"scale":{"color":"independent"}},
  "title":{"text":"(obstacle avoidance)","fontSize":20,"fontStyle":"italic","anchor":"middle","align":"left","dx":-31,"offset":20}},
  {"hconcat":[
   {"width":124,"height":104,"data":{"name":"d"},"transform":[{"filter":"datum.p=='c3'"}],
    "encoding":{"x":{"field":"x","type":"quantitative","scale":{"domain":[-0.2,1.0],"nice":false,"zero":false},"axis":{"values":[-0.2,0,0.2,0.4,0.6,0.8,1.0],"title":"X (m)"}},"y":{"field":"y","type":"quantitative","scale":{"domain":[-0.36,0.65],"nice":false,"zero":false},"axis":{"values":[-0.2,0,0.2,0.4,0.6],"title":"Y (m)"}}},
    "layer":[
     {"transform":[{"filter":"datum.g=='b'"}],"mark":{"type":"point","filled":true,"size":424,"strokeWidth":0.9,"opacity":1},"encoding":{"shape":{"field":"sh","type":"nominal","scale":{"domain":["R","T","C"],"range":["M-0.5,-1L0.5,-1L0.5,1L-0.5,1Z","M-0.2,-0.8L0.2,-0.8L0.2,-0.12L1.4,-0.12L1.4,0.12L0.2,0.12L0.2,0.8L-0.2,0.8Z","M0.82,0A0.82,0.82,0,1,1,-0.82,0A0.82,0.82,0,1,1,0.82,0Z"]},"legend":null},"fill":{"field":"k","type":"nominal","scale":{"domain":["ghost","start","goal","gcs","obs","sa","ga","gt"],"range":["rgba(170,170,170,0.3)","#45a845","#f7d21e","#5f6e5c","#e8271f","#8dd0ee","#d8a443","#c0502a"]},"legend":null},"stroke":{"field":"k","type":"nominal","scale":{"domain":["ghost","start","goal","gcs","obs","sa","ga","gt"],"range":["rgba(140,140,140,0.45)","#1f4f9f","#d9241f","#1f4f9f","#222222","#8dd0ee","#d8a443","#c0502a"]},"legend":null},"angle":{"field":"a","type":"quantitative","scale":null}}},
     {"transform":[{"filter":"datum.g=='a'"}],"mark":{"type":"rule","strokeWidth":2.5},"encoding":{"x2":{"field":"x2"},"y2":{"field":"y2"},"stroke":{"field":"k","type":"nominal","scale":{"domain":["ghost","start","goal","gcs","obs","sa","ga","gt"],"range":["rgba(140,140,140,0.45)","#1f4f9f","#d9241f","#1f4f9f","#222222","#8dd0ee","#d8a443","#c0502a"]},"legend":null}}},
     {"transform":[{"filter":"datum.g=='h'"}],"mark":{"type":"point","shape":"triangle-right","filled":true,"size":40,"stroke":"#333","strokeWidth":0.5,"opacity":1},"encoding":{"fill":{"field":"k","type":"nominal","scale":{"domain":["ghost","start","goal","gcs","obs","sa","ga","gt"],"range":["rgba(170,170,170,0.3)","#45a845","#f7d21e","#5f6e5c","#e8271f","#8dd0ee","#d8a443","#c0502a"]},"legend":null},"angle":{"field":"a","type":"quantitative","scale":null}}},
     {"transform":[{"filter":"datum.g=='t'"}],"mark":{"type":"line","color":"#111","strokeWidth":0.8,"point":{"filled":true,"size":4,"color":"#111"}},"encoding":{"order":{"field":"i","type":"quantitative"},"detail":{"field":"k","type":"nominal"}}},
     {"transform":[{"filter":"datum.g=='d'"}],"mark":{"type":"point","filled":true,"size":10,"opacity":1},"encoding":{"color":{"field":"k","type":"nominal","scale":{"domain":["Start","Goal"],"range":["#1f4f9f","#e3221c"]},"legend":{"title":null}}}}
    ]},
   {"width":124,"height":104,"data":{"name":"d"},"transform":[{"filter":"datum.p=='c4'"}],
    "encoding":{"x":{"field":"x","type":"quantitative","scale":{"domain":[-0.2,1.0],"nice":false,"zero":false},"axis":{"values":[-0.2,0,0.2,0.4,0.6,0.8,1.0],"title":"X (m)"}},"y":{"field":"y","type":"quantitative","scale":{"domain":[-0.36,0.65],"nice":false,"zero":false},"axis":{"values":[-0.2,0,0.2,0.4,0.6],"title":null}}},
    "layer":[
     {"transform":[{"filter":"datum.g=='b'"}],"mark":{"type":"point","filled":true,"size":424,"strokeWidth":0.9,"opacity":1},"encoding":{"shape":{"field":"sh","type":"nominal","scale":{"domain":["R","T","C"],"range":["M-0.5,-1L0.5,-1L0.5,1L-0.5,1Z","M-0.2,-0.8L0.2,-0.8L0.2,-0.12L1.4,-0.12L1.4,0.12L0.2,0.12L0.2,0.8L-0.2,0.8Z","M0.82,0A0.82,0.82,0,1,1,-0.82,0A0.82,0.82,0,1,1,0.82,0Z"]},"legend":null},"fill":{"field":"k","type":"nominal","scale":{"domain":["ghost","start","goal","gcs","obs","sa","ga","gt"],"range":["rgba(170,170,170,0.3)","#45a845","#f7d21e","#5f6e5c","#e8271f","#8dd0ee","#d8a443","#c0502a"]},"legend":null},"stroke":{"field":"k","type":"nominal","scale":{"domain":["ghost","start","goal","gcs","obs","sa","ga","gt"],"range":["rgba(140,140,140,0.45)","#1f4f9f","#d9241f","#1f4f9f","#222222","#8dd0ee","#d8a443","#c0502a"]},"legend":null},"angle":{"field":"a","type":"quantitative","scale":null}}},
     {"transform":[{"filter":"datum.g=='a'"}],"mark":{"type":"rule","strokeWidth":2.5},"encoding":{"x2":{"field":"x2"},"y2":{"field":"y2"},"stroke":{"field":"k","type":"nominal","scale":{"domain":["ghost","start","goal","gcs","obs","sa","ga","gt"],"range":["rgba(140,140,140,0.45)","#1f4f9f","#d9241f","#1f4f9f","#222222","#8dd0ee","#d8a443","#c0502a"]},"legend":null}}},
     {"transform":[{"filter":"datum.g=='h'"}],"mark":{"type":"point","shape":"triangle-right","filled":true,"size":40,"stroke":"#333","strokeWidth":0.5,"opacity":1},"encoding":{"fill":{"field":"k","type":"nominal","scale":{"domain":["ghost","start","goal","gcs","obs","sa","ga","gt"],"range":["rgba(170,170,170,0.3)","#45a845","#f7d21e","#5f6e5c","#e8271f","#8dd0ee","#d8a443","#c0502a"]},"legend":null},"angle":{"field":"a","type":"quantitative","scale":null}}},
     {"transform":[{"filter":"datum.g=='t'"}],"mark":{"type":"line","color":"#111","strokeWidth":0.8,"point":{"filled":true,"size":4,"color":"#111"}},"encoding":{"order":{"field":"i","type":"quantitative"},"detail":{"field":"k","type":"nominal"}}},
     {"transform":[{"filter":"datum.g=='d'"}],"mark":{"type":"point","filled":true,"size":10,"opacity":1},"encoding":{"color":{"field":"k","type":"nominal","scale":{"domain":["Start","Goal"],"range":["#1f4f9f","#e3221c"]},"legend":{"title":null}}}}
    ]}
  ],"bounds":"flush","spacing":25,"resolve":{"scale":{"color":"independent"}}}
 ],"spacing":25,"resolve":{"scale":{"color":"independent"}},
 "title":{"text":"Task III","fontSize":20,"fontWeight":"bold","anchor":"middle","align":"right","dx":-36,"dy":20,"offset":0}}
],"spacing":1,"resolve":{"scale":{"color":"independent"}}}
],
"spacing":-1,
"resolve":{"scale":{"color":"independent"}}
}
